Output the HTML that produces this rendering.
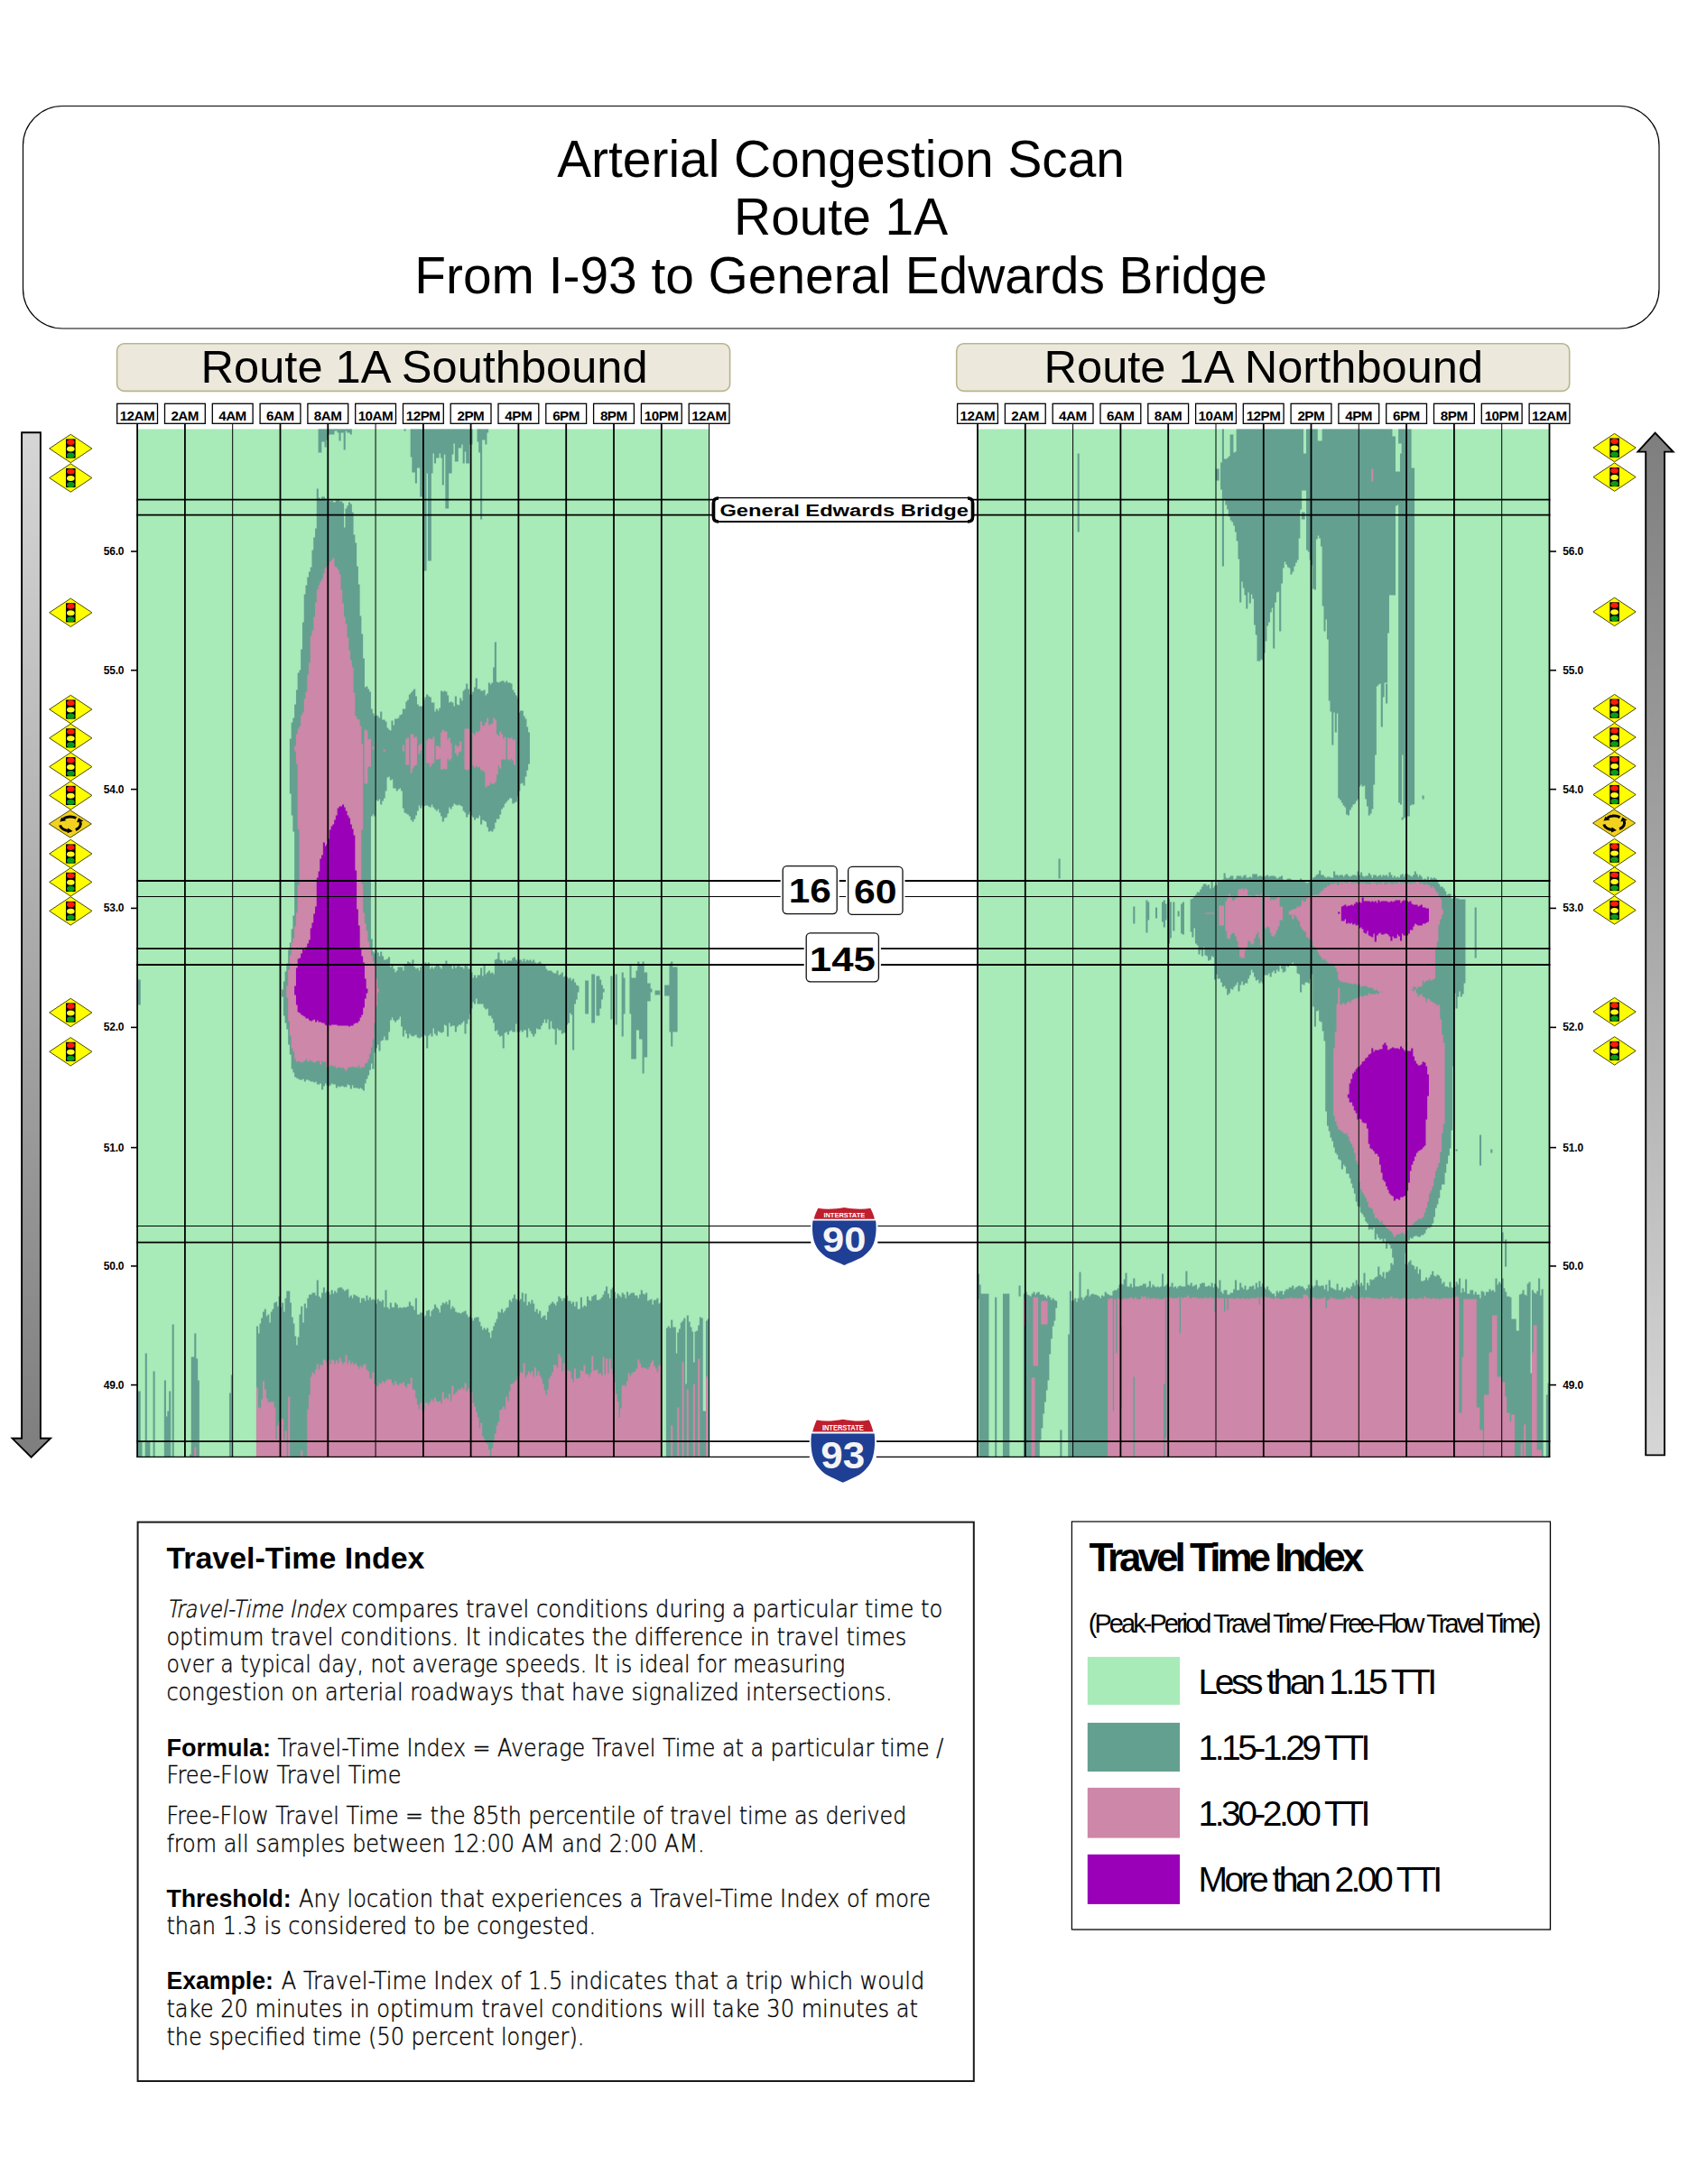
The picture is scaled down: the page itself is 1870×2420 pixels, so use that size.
<!DOCTYPE html>
<html lang="en"><head><meta charset="utf-8"><title>Arterial Congestion Scan - Route 1A</title>
<style>
html,body{margin:0;padding:0;background:#fff}
svg{display:block}
text{font-family:"Liberation Sans", sans-serif;fill:#000}
</style></head><body>
<svg width="1870" height="2420" viewBox="0 0 1870 2420">
<defs>
<linearGradient id="gL" x1="0" y1="0" x2="0" y2="1"><stop offset="0" stop-color="#d6d6d6"/><stop offset="1" stop-color="#7e7e7e"/></linearGradient>
<linearGradient id="gR" x1="0" y1="0" x2="0" y2="1"><stop offset="0" stop-color="#7e7e7e"/><stop offset="1" stop-color="#d6d6d6"/></linearGradient>
<g id="tl">
<polygon points="-23.6,0 0,-15.7 23.6,0 0,15.7" fill="#ffff00" stroke="#4a4a00" stroke-width="1"/>
<rect x="-5.3" y="-10.6" width="10.6" height="21.2" fill="#000"/>
<ellipse cx="0" cy="-7.1" rx="4.3" ry="3" fill="#ff1a0a"/>
<ellipse cx="0" cy="0.4" rx="4.3" ry="3" fill="#ffff1a"/>
<ellipse cx="0" cy="7.4" rx="4.3" ry="3" fill="#0a9a1a"/>
</g>
<g id="rb">
<polygon points="-23.5,0 0,-15.2 23.5,0 0,15.2" fill="#f2d21f" stroke="#4a4a00" stroke-width="1"/>
<g fill="none" stroke="#000" stroke-width="3">
<path d="M6.5,-6.4 A10.5,7.6 0 0 0 -7.5,-5.6"/>
<path d="M-11.3,1.5 A10.5,7.6 0 0 0 -1.5,7.5"/>
<path d="M6,6.6 A10.5,7.6 0 0 0 11,-2.5"/>
</g>
<polygon points="-11.6,-2.4 -9.6,-7.2 -4.4,-3.6" fill="#000"/>
<polygon points="2.8,8 -3.2,10.4 -2.4,4.6" fill="#000"/>
<polygon points="7.2,-1.6 9.2,-6.6 14.6,-3.2" fill="#000"/>
</g>
<g id="shield">
<path d="M-30.2,-32.4 C-20,-30.6 -10,-31.2 0,-33.2 C10,-31.2 20,-30.6 30.2,-32.4 C33,-27 35.2,-22 36.3,-17.4 C37.4,-10 37,0 34.2,8.6 C31.4,16 25,22.4 19.2,25.6 C12.5,29 5,31.6 0,34.2 C-5,31.6 -12.5,29 -19.2,25.6 C-25,22.4 -31.4,16 -34.2,8.6 C-37,0 -37.4,-10 -36.3,-17.4 C-35.2,-22 -33,-27 -30.2,-32.4 Z" fill="#fff"/>
<path d="M-29,-30.8 C-20,-29.2 -10,-29.8 0,-31.5 C10,-29.8 20,-29.2 29,-30.8 C31,-27 32.6,-23 33.6,-18.9 L-33.6,-18.9 C-32.6,-23 -31,-27 -29,-30.8 Z" fill="#bf1e2e"/>
<path d="M-34.8,-17.2 L34.8,-17.2 C35.8,-10 35.5,0 32.6,8.2 C30,15 24,21 18.4,24.2 C12,27.5 5,30 0,32.3 C-5,30 -12,27.5 -18.4,24.2 C-24,21 -30,15 -32.6,8.2 C-35.5,0 -35.8,-10 -34.8,-17.2 Z" fill="#1f3f94"/>
</g>
</defs>
<rect width="1870" height="2420" fill="#fff"/>

<rect x="25.5" y="117.5" width="1812.5" height="246.5" rx="44" ry="44" fill="#fff" stroke="#000" stroke-width="1.2"/>
<text x="931.6" y="195.6" text-anchor="middle" font-size="56.85">Arterial Congestion Scan</text>
<text x="931.6" y="260.2" text-anchor="middle" font-size="56.85">Route 1A</text>
<text x="931.6" y="324.9" text-anchor="middle" font-size="56.85">From I-93 to General Edwards Bridge</text>
<rect x="129.6" y="380.8" width="679" height="52.6" rx="8" ry="8" fill="#ece9dc" stroke="#b9b58e" stroke-width="1.6"/>
<text x="470.1" y="424.3" text-anchor="middle" font-size="50.6">Route 1A Southbound</text>
<rect x="1059.7" y="380.8" width="679" height="52.6" rx="8" ry="8" fill="#ece9dc" stroke="#b9b58e" stroke-width="1.6"/>
<text x="1399.8" y="424.3" text-anchor="middle" font-size="50.6">Route 1A Northbound</text>
<rect x="152.1" y="475.5" width="633.5" height="1138.7" fill="#a8eab8"/>
<path d="M153.0 1085.5V1113.5M153.0 1541.5V1614.2M154.7 1085.5V1113.5M154.7 1541.5V1614.2M156.5 1597.5V1614.2M161.8 1499.5V1614.2M163.5 1597.5V1614.2M165.3 1597.5V1614.2M170.6 1519.5V1614.2M182.9 1529.5V1614.2M184.7 1569.5V1614.2M186.4 1563.5V1614.2M188.2 1541.5V1614.2M191.7 1467.5V1614.2M211.1 1611.5V1614.2M212.8 1503.5V1614.2M214.6 1503.5V1614.2M216.3 1477.5V1614.2M218.1 1505.5V1614.2M219.8 1529.5V1614.2M255.0 1543.5V1614.2M256.8 1523.5V1614.2M285.0 1469.5V1614.2M286.7 1477.5V1614.2M288.5 1466.5V1614.2M290.2 1460.5V1614.2M292.0 1453.5V1614.2M293.8 1450.5V1614.2M295.5 1458.5V1614.2M297.3 1456.5V1614.2M299.0 1465.5V1614.2M300.8 1453.5V1614.2M302.6 1450.5V1614.2M304.3 1443.5V1614.2M306.1 1442.5V1614.2M307.8 1447.5V1614.2M309.6 1436.5V1614.2M311.4 1448.5V1614.2M313.1 1096.5V1104.5M313.1 1443.5V1614.2M314.9 1087.5V1125.5M314.9 1453.5V1614.2M316.6 1076.5V1133.5M316.6 1438.5V1614.2M318.4 1067.5V1140.5M318.4 1430.5V1614.2M320.2 1052.5V1157.5M320.2 1430.5V1614.2M321.9 818.5V879.5M321.9 1044.5V1168.5M321.9 1443.5V1614.2M323.7 800.5V903.5M323.7 1029.5V1184.5M323.7 1459.5V1614.2M325.4 795.5V921.5M325.4 1014.5V1188.5M325.4 1466.5V1614.2M327.2 780.5V1193.5M327.2 1480.5V1614.2M329.0 764.5V1194.5M329.0 1490.5V1614.2M330.7 745.5V1195.5M330.7 1481.5V1614.2M332.5 742.5V1196.5M332.5 1456.5V1614.2M334.2 719.5V1196.5M334.2 1447.5V1614.2M336.0 689.5V1195.5M336.0 1465.5V1614.2M337.8 658.5V1198.5M337.8 1444.5V1614.2M339.5 648.5V1196.5M339.5 1449.5V1614.2M341.3 639.5V1196.5M341.3 1438.5V1614.2M343.0 633.5V1197.5M343.0 1434.5V1614.2M344.8 628.5V1198.5M344.8 1434.5V1614.2M346.5 609.5V1198.5M346.5 1432.5V1614.2M348.3 595.5V1199.5M348.3 1432.5V1614.2M350.1 585.5V1198.5M350.1 1435.5V1614.2M351.8 541.5V1201.5M351.8 1418.5V1614.2M353.6 475.5V501.5M353.6 551.5V1201.5M353.6 1436.5V1614.2M355.3 475.5V501.5M355.3 553.5V1200.5M355.3 1438.5V1614.2M357.1 475.5V489.5M357.1 550.5V1207.5M357.1 1432.5V1614.2M358.9 475.5V489.5M358.9 550.5V1203.5M358.9 1426.5V1614.2M360.6 475.5V495.5M360.6 552.5V1200.5M360.6 1432.5V1614.2M362.4 475.5V487.5M362.4 555.5V1202.5M362.4 1430.5V1614.2M364.1 475.5V481.5M364.1 554.5V1203.5M364.1 1431.5V1614.2M365.9 475.5V481.5M365.9 555.5V1202.5M365.9 1434.5V1614.2M367.7 475.5V481.5M367.7 554.5V1200.5M367.7 1429.5V1614.2M369.4 475.5V481.5M369.4 556.5V1201.5M369.4 1433.5V1614.2M371.2 475.5V477.5M371.2 556.5V1201.5M371.2 1430.5V1614.2M372.9 475.5V477.5M372.9 554.5V1205.5M372.9 1432.5V1614.2M374.7 475.5V479.5M374.7 553.5V1203.5M374.7 1427.5V1614.2M376.5 475.5V488.5M376.5 555.5V1204.5M376.5 1426.5V1614.2M378.2 475.5V479.5M378.2 555.5V1203.5M378.2 1426.5V1614.2M380.0 475.5V479.5M380.0 557.5V1203.5M380.0 1428.5V1614.2M381.7 475.5V498.5M381.7 584.5V1204.5M381.7 1430.5V1614.2M383.5 475.5V477.5M383.5 563.5V1204.5M383.5 1429.5V1614.2M385.3 475.5V479.5M385.3 560.5V1201.5M385.3 1428.5V1614.2M387.0 475.5V479.5M387.0 556.5V1202.5M387.0 1437.5V1614.2M388.8 475.5V481.5M388.8 558.5V1206.5M388.8 1435.5V1614.2M390.5 567.5V1202.5M390.5 1438.5V1614.2M392.3 592.5V1205.5M392.3 1434.5V1614.2M394.1 601.5V1205.5M394.1 1435.5V1614.2M395.8 627.5V1205.5M395.8 1436.5V1614.2M397.6 647.5V1206.5M397.6 1437.5V1614.2M399.3 682.5V1205.5M399.3 1443.5V1614.2M401.1 702.5V1206.5M401.1 1438.5V1614.2M402.9 729.5V1208.5M402.9 1438.5V1614.2M404.6 761.5V1200.5M404.6 1441.5V1614.2M406.4 760.5V1195.5M406.4 1435.5V1614.2M408.1 763.5V1191.5M408.1 1440.5V1614.2M409.9 766.5V1185.5M409.9 1437.5V1614.2M411.7 785.5V904.5M411.7 1040.5V1178.5M411.7 1440.5V1614.2M413.4 790.5V902.5M413.4 1054.5V1184.5M413.4 1439.5V1614.2M415.2 793.5V904.5M415.2 1056.5V1166.5M415.2 1440.5V1614.2M416.9 792.5V886.5M416.9 1052.5V1161.5M416.9 1444.5V1614.2M418.7 793.5V887.5M418.7 1055.5V1157.5M418.7 1439.5V1614.2M420.5 795.5V885.5M420.5 1059.5V1164.5M420.5 1441.5V1614.2M422.2 788.5V891.5M422.2 1054.5V1153.5M422.2 1442.5V1614.2M424.0 797.5V887.5M424.0 1059.5V1152.5M424.0 1440.5V1614.2M425.7 797.5V884.5M425.7 1063.5V1148.5M425.7 1448.5V1614.2M427.5 799.5V876.5M427.5 1063.5V1152.5M427.5 1429.5V1614.2M429.3 806.5V861.5M429.3 1062.5V1152.5M429.3 1448.5V1614.2M431.0 808.5V860.5M431.0 1060.5V1143.5M431.0 1450.5V1614.2M432.8 809.5V864.5M432.8 1071.5V1130.5M432.8 1443.5V1614.2M434.5 798.5V863.5M434.5 1069.5V1127.5M434.5 1448.5V1614.2M436.3 803.5V873.5M436.3 1073.5V1130.5M436.3 1448.5V1614.2M438.1 796.5V873.5M438.1 1077.5V1132.5M438.1 1443.5V1614.2M439.8 796.5V876.5M439.8 1075.5V1130.5M439.8 1445.5V1614.2M441.6 795.5V874.5M441.6 1071.5V1129.5M441.6 1449.5V1614.2M443.3 792.5V873.5M443.3 1071.5V1126.5M443.3 1448.5V1614.2M445.1 791.5V876.5M445.1 1071.5V1137.5M445.1 1449.5V1614.2M446.9 785.5V895.5M446.9 1075.5V1148.5M446.9 1448.5V1614.2M448.6 475.5V477.5M448.6 785.5V900.5M448.6 1068.5V1141.5M448.6 1448.5V1614.2M450.4 777.5V901.5M450.4 1069.5V1145.5M450.4 1448.5V1614.2M452.1 775.5V902.5M452.1 1065.5V1150.5M452.1 1447.5V1614.2M453.9 769.5V904.5M453.9 1066.5V1145.5M453.9 1442.5V1614.2M455.7 475.5V506.5M455.7 767.5V908.5M455.7 1068.5V1147.5M455.7 1446.5V1614.2M457.4 475.5V523.5M457.4 765.5V910.5M457.4 1063.5V1148.5M457.4 1447.5V1614.2M459.2 475.5V523.5M459.2 763.5V907.5M459.2 1071.5V1147.5M459.2 1451.5V1614.2M460.9 475.5V535.5M460.9 771.5V903.5M460.9 1073.5V1146.5M460.9 1438.5V1614.2M462.7 475.5V518.5M462.7 780.5V898.5M462.7 1072.5V1149.5M462.7 1456.5V1614.2M464.5 475.5V518.5M464.5 782.5V892.5M464.5 1075.5V1150.5M464.5 1456.5V1614.2M466.2 475.5V550.5M466.2 782.5V895.5M466.2 1071.5V1149.5M466.2 1454.5V1614.2M468.0 475.5V550.5M468.0 782.5V892.5M468.0 1069.5V1148.5M468.0 1454.5V1614.2M469.7 475.5V632.5M469.7 775.5V893.5M469.7 1070.5V1146.5M469.7 1459.5V1614.2M471.5 475.5V632.5M471.5 772.5V892.5M471.5 1066.5V1147.5M471.5 1457.5V1614.2M473.2 475.5V524.5M473.2 769.5V892.5M473.2 1069.5V1161.5M473.2 1452.5V1614.2M475.0 475.5V621.5M475.0 771.5V893.5M475.0 1066.5V1147.5M475.0 1451.5V1614.2M476.8 475.5V621.5M476.8 772.5V894.5M476.8 1073.5V1145.5M476.8 1458.5V1614.2M478.5 475.5V524.5M478.5 778.5V891.5M478.5 1071.5V1148.5M478.5 1452.5V1614.2M480.3 475.5V502.5M480.3 778.5V894.5M480.3 1073.5V1139.5M480.3 1450.5V1614.2M482.0 475.5V513.5M482.0 788.5V896.5M482.0 1071.5V1145.5M482.0 1445.5V1614.2M483.8 475.5V507.5M483.8 785.5V898.5M483.8 1069.5V1147.5M483.8 1448.5V1614.2M485.6 475.5V507.5M485.6 787.5V896.5M485.6 1069.5V1142.5M485.6 1450.5V1614.2M487.3 475.5V502.5M487.3 784.5V900.5M487.3 1071.5V1143.5M487.3 1454.5V1614.2M489.1 475.5V507.5M489.1 765.5V904.5M489.1 1073.5V1144.5M489.1 1446.5V1614.2M490.8 475.5V537.5M490.8 766.5V910.5M490.8 1069.5V1143.5M490.8 1443.5V1614.2M492.6 475.5V503.5M492.6 765.5V906.5M492.6 1069.5V1135.5M492.6 1444.5V1614.2M494.4 475.5V563.5M494.4 766.5V905.5M494.4 1064.5V1136.5M494.4 1442.5V1614.2M496.1 475.5V563.5M496.1 770.5V901.5M496.1 1069.5V1148.5M496.1 1445.5V1614.2M497.9 475.5V524.5M497.9 778.5V894.5M497.9 1068.5V1133.5M497.9 1440.5V1614.2M499.6 475.5V524.5M499.6 777.5V896.5M499.6 1068.5V1137.5M499.6 1450.5V1614.2M501.4 475.5V503.5M501.4 778.5V893.5M501.4 1073.5V1136.5M501.4 1447.5V1614.2M503.2 475.5V491.5M503.2 782.5V890.5M503.2 1069.5V1136.5M503.2 1449.5V1614.2M504.9 475.5V511.5M504.9 771.5V891.5M504.9 1072.5V1143.5M504.9 1453.5V1614.2M506.7 475.5V511.5M506.7 780.5V892.5M506.7 1070.5V1137.5M506.7 1454.5V1614.2M508.4 475.5V496.5M508.4 781.5V891.5M508.4 1068.5V1135.5M508.4 1454.5V1614.2M510.2 475.5V496.5M510.2 773.5V892.5M510.2 1071.5V1135.5M510.2 1455.5V1614.2M512.0 475.5V492.5M512.0 776.5V893.5M512.0 1071.5V1133.5M512.0 1454.5V1614.2M513.7 475.5V513.5M513.7 765.5V898.5M513.7 1073.5V1131.5M513.7 1453.5V1614.2M515.5 475.5V500.5M515.5 763.5V900.5M515.5 1069.5V1145.5M515.5 1452.5V1614.2M517.2 475.5V513.5M517.2 757.5V905.5M517.2 1070.5V1134.5M517.2 1456.5V1614.2M519.0 475.5V513.5M519.0 763.5V902.5M519.0 1073.5V1129.5M519.0 1459.5V1614.2M520.8 475.5V492.5M520.8 769.5V899.5M520.8 1073.5V1123.5M520.8 1458.5V1614.2M522.5 475.5V492.5M522.5 769.5V903.5M522.5 1077.5V1117.5M522.5 1460.5V1614.2M524.3 766.5V905.5M524.3 1083.5V1110.5M524.3 1463.5V1614.2M526.0 761.5V908.5M526.0 1080.5V1112.5M526.0 1460.5V1614.2M527.8 751.5V906.5M527.8 1083.5V1106.5M527.8 1459.5V1614.2M529.6 475.5V489.5M529.6 763.5V906.5M529.6 1080.5V1112.5M529.6 1459.5V1614.2M531.3 475.5V501.5M531.3 763.5V903.5M531.3 1080.5V1112.5M531.3 1464.5V1614.2M533.1 475.5V575.5M533.1 765.5V913.5M533.1 1072.5V1112.5M533.1 1469.5V1614.2M534.8 475.5V487.5M534.8 765.5V908.5M534.8 1081.5V1112.5M534.8 1473.5V1614.2M536.6 475.5V487.5M536.6 764.5V909.5M536.6 1069.5V1116.5M536.6 1471.5V1614.2M538.4 475.5V492.5M538.4 770.5V910.5M538.4 1079.5V1118.5M538.4 1473.5V1614.2M540.1 475.5V479.5M540.1 768.5V916.5M540.1 1077.5V1117.5M540.1 1471.5V1614.2M541.9 756.5V921.5M541.9 1075.5V1125.5M541.9 1476.5V1614.2M543.6 758.5V920.5M543.6 1078.5V1125.5M543.6 1482.5V1614.2M545.4 756.5V921.5M545.4 1077.5V1128.5M545.4 1474.5V1614.2M547.2 739.5V918.5M547.2 1079.5V1133.5M547.2 1469.5V1614.2M548.9 711.5V911.5M548.9 1063.5V1142.5M548.9 1465.5V1614.2M550.7 755.5V907.5M550.7 1062.5V1141.5M550.7 1461.5V1614.2M552.4 756.5V907.5M552.4 1055.5V1146.5M552.4 1453.5V1614.2M554.2 755.5V902.5M554.2 1063.5V1148.5M554.2 1454.5V1614.2M556.0 754.5V896.5M556.0 1064.5V1147.5M556.0 1450.5V1614.2M557.7 754.5V894.5M557.7 1067.5V1161.5M557.7 1454.5V1614.2M559.5 756.5V890.5M559.5 1063.5V1144.5M559.5 1452.5V1614.2M561.2 754.5V888.5M561.2 1066.5V1143.5M561.2 1449.5V1614.2M563.0 756.5V886.5M563.0 1064.5V1146.5M563.0 1448.5V1614.2M564.8 756.5V884.5M564.8 1064.5V1142.5M564.8 1440.5V1614.2M566.5 757.5V884.5M566.5 1064.5V1141.5M566.5 1442.5V1614.2M568.3 764.5V890.5M568.3 1061.5V1143.5M568.3 1438.5V1614.2M570.0 767.5V889.5M570.0 1060.5V1143.5M570.0 1434.5V1614.2M571.8 770.5V888.5M571.8 1063.5V1134.5M571.8 1439.5V1614.2M573.6 773.5V882.5M573.6 1065.5V1143.5M573.6 1440.5V1614.2M575.3 789.5V876.5M575.3 1063.5V1143.5M575.3 1441.5V1614.2M577.1 787.5V868.5M577.1 1063.5V1141.5M577.1 1439.5V1614.2M578.8 787.5V867.5M578.8 1065.5V1143.5M578.8 1432.5V1614.2M580.6 793.5V870.5M580.6 1062.5V1141.5M580.6 1442.5V1614.2M582.4 796.5V860.5M582.4 1065.5V1141.5M582.4 1433.5V1614.2M584.1 805.5V853.5M584.1 1063.5V1149.5M584.1 1446.5V1614.2M585.9 811.5V846.5M585.9 1064.5V1139.5M585.9 1442.5V1614.2M587.6 1063.5V1142.5M587.6 1444.5V1614.2M589.4 1065.5V1145.5M589.4 1440.5V1614.2M591.2 1063.5V1148.5M591.2 1444.5V1614.2M592.9 1066.5V1145.5M592.9 1453.5V1614.2M594.7 1067.5V1139.5M594.7 1450.5V1614.2M596.4 1066.5V1140.5M596.4 1455.5V1614.2M598.2 1065.5V1140.5M598.2 1452.5V1614.2M599.9 1067.5V1136.5M599.9 1460.5V1614.2M601.7 1068.5V1133.5M601.7 1458.5V1614.2M603.5 1069.5V1129.5M603.5 1457.5V1614.2M605.2 1073.5V1133.5M605.2 1462.5V1614.2M607.0 1075.5V1129.5M607.0 1453.5V1614.2M608.7 1075.5V1140.5M608.7 1446.5V1614.2M610.5 1075.5V1131.5M610.5 1444.5V1614.2M612.3 1077.5V1139.5M612.3 1442.5V1614.2M614.0 1078.5V1140.5M614.0 1444.5V1614.2M615.8 1078.5V1157.5M615.8 1446.5V1614.2M617.5 1075.5V1139.5M617.5 1442.5V1614.2M619.3 1080.5V1141.5M619.3 1436.5V1614.2M621.1 1079.5V1141.5M621.1 1438.5V1614.2M622.8 1077.5V1145.5M622.8 1441.5V1614.2M624.6 1082.5V1144.5M624.6 1438.5V1614.2M626.3 1081.5V1144.5M626.3 1438.5V1614.2M628.1 1082.5V1135.5M628.1 1435.5V1614.2M629.9 1084.5V1133.5M629.9 1441.5V1614.2M631.6 1083.5V1122.5M631.6 1441.5V1614.2M633.4 1086.5V1124.5M633.4 1444.5V1614.2M635.1 1084.5V1163.5M635.1 1442.5V1614.2M636.9 1088.5V1112.5M636.9 1447.5V1614.2M638.7 1091.5V1107.5M638.7 1442.5V1614.2M640.4 1092.5V1099.5M640.4 1450.5V1614.2M642.2 1450.5V1614.2M643.9 1437.5V1614.2M645.7 1448.5V1614.2M647.5 1446.5V1614.2M649.2 1086.5V1123.5M649.2 1447.5V1614.2M651.0 1086.5V1123.5M651.0 1436.5V1614.2M652.7 1440.5V1614.2M654.5 1441.5V1614.2M656.3 1079.5V1133.5M656.3 1436.5V1614.2M658.0 1079.5V1133.5M658.0 1435.5V1614.2M659.8 1434.5V1614.2M661.5 1081.5V1125.5M661.5 1440.5V1614.2M663.3 1081.5V1125.5M663.3 1440.5V1614.2M665.1 1085.5V1117.5M665.1 1439.5V1614.2M666.8 1091.5V1107.5M666.8 1437.5V1614.2M668.6 1095.5V1099.5M668.6 1434.5V1614.2M670.3 1430.5V1614.2M672.1 1425.5V1614.2M673.9 1433.5V1614.2M675.6 1438.5V1614.2M677.4 1081.5V1129.5M677.4 1428.5V1614.2M679.1 1426.5V1614.2M680.9 1431.5V1614.2M682.7 1079.5V1135.5M682.7 1438.5V1614.2M684.4 1433.5V1614.2M686.2 1435.5V1614.2M687.9 1437.5V1614.2M689.7 1077.5V1148.5M689.7 1432.5V1614.2M691.5 1083.5V1123.5M691.5 1434.5V1614.2M693.2 1438.5V1614.2M695.0 1431.5V1614.2M696.7 1435.5V1614.2M698.5 1069.5V1123.5M698.5 1433.5V1614.2M700.3 1083.5V1173.5M700.3 1432.5V1614.2M702.0 1083.5V1173.5M702.0 1432.5V1614.2M703.8 1083.5V1173.5M703.8 1435.5V1614.2M705.5 1075.5V1141.5M705.5 1435.5V1614.2M707.3 1065.5V1141.5M707.3 1438.5V1614.2M709.1 1069.5V1151.5M709.1 1434.5V1614.2M710.8 1069.5V1151.5M710.8 1429.5V1614.2M712.6 1065.5V1189.5M712.6 1433.5V1614.2M714.3 1077.5V1171.5M714.3 1434.5V1614.2M716.1 1077.5V1171.5M716.1 1432.5V1614.2M717.9 1089.5V1109.5M717.9 1441.5V1614.2M719.6 1089.5V1109.5M719.6 1440.5V1614.2M721.4 1095.5V1099.5M721.4 1439.5V1614.2M723.1 1445.5V1614.2M724.9 1440.5V1614.2M726.6 1097.5V1102.5M726.6 1440.5V1614.2M728.4 1097.5V1102.5M728.4 1438.5V1614.2M730.2 1097.5V1102.5M730.2 1444.5V1614.2M731.9 1443.5V1614.2M737.2 1091.5V1103.5M739.0 1091.5V1103.5M739.0 1471.5V1614.2M740.7 1091.5V1103.5M740.7 1469.5V1614.2M742.5 1067.5V1143.5M742.5 1471.5V1614.2M744.2 1065.5V1159.5M744.2 1462.5V1614.2M746.0 1071.5V1143.5M746.0 1470.5V1614.2M747.8 1071.5V1143.5M747.8 1470.5V1614.2M749.5 1071.5V1143.5M749.5 1499.5V1614.2M751.3 1476.5V1614.2M753.0 1472.5V1614.2M754.8 1465.5V1614.2M756.6 1463.5V1614.2M758.3 1460.5V1614.2M760.1 1533.5V1614.2M761.8 1457.5V1614.2M763.6 1464.5V1614.2M765.4 1470.5V1614.2M767.1 1475.5V1614.2M768.9 1509.5V1614.2M770.6 1475.5V1614.2M772.4 1474.5V1614.2M774.2 1468.5V1614.2M775.9 1459.5V1614.2M777.7 1460.5V1614.2M779.4 1563.5V1614.2M781.2 1563.5V1614.2M783.0 1463.5V1614.2M784.7 1461.5V1614.2" stroke="#64a090" stroke-width="2.11" fill="none"/>
<path d="M216.3 1603.5V1614.2M285.0 1537.5V1614.2M286.7 1559.5V1614.2M288.5 1560.5V1614.2M290.2 1550.5V1614.2M292.0 1530.5V1614.2M293.8 1539.5V1614.2M295.5 1549.5V1614.2M297.3 1553.5V1614.2M299.0 1553.5V1614.2M300.8 1553.5V1614.2M302.6 1553.5V1614.2M304.3 1559.5V1614.2M306.1 1594.5V1614.2M307.8 1579.5V1614.2M309.6 1575.5V1614.2M311.4 1571.5V1614.2M313.1 1572.5V1614.2M314.9 1595.5V1614.2M316.6 1585.5V1614.2M318.4 1092.5V1105.5M320.2 1074.5V1131.5M320.2 1547.5V1614.2M321.9 1058.5V1147.5M323.7 1044.5V1161.5M325.4 1039.5V1165.5M327.2 826.5V832.5M327.2 1026.5V1173.5M329.0 813.5V846.5M329.0 1011.5V1176.5M330.7 807.5V918.5M330.7 980.5V1175.5M332.5 804.5V1176.5M334.2 792.5V1177.5M334.2 1607.5V1614.2M336.0 789.5V1176.5M337.8 774.5V1175.5M339.5 766.5V1173.5M341.3 747.5V1176.5M341.3 1561.5V1614.2M343.0 734.5V1174.5M343.0 1545.5V1614.2M344.8 704.5V1175.5M344.8 1525.5V1614.2M346.5 698.5V1176.5M346.5 1520.5V1614.2M348.3 683.5V1177.5M348.3 1522.5V1614.2M350.1 667.5V1176.5M350.1 1517.5V1614.2M351.8 653.5V1175.5M351.8 1511.5V1614.2M353.6 648.5V1175.5M353.6 1517.5V1614.2M355.3 644.5V1179.5M355.3 1512.5V1614.2M357.1 641.5V1175.5M357.1 1512.5V1614.2M358.9 635.5V1176.5M358.9 1506.5V1614.2M360.6 629.5V1176.5M360.6 1507.5V1614.2M362.4 627.5V1182.5M362.4 1510.5V1614.2M364.1 626.5V1182.5M364.1 1506.5V1614.2M365.9 622.5V1180.5M365.9 1511.5V1614.2M367.7 620.5V1180.5M367.7 1506.5V1614.2M369.4 618.5V1181.5M369.4 1507.5V1614.2M371.2 627.5V1181.5M371.2 1511.5V1614.2M372.9 628.5V1183.5M372.9 1507.5V1614.2M374.7 631.5V1182.5M374.7 1510.5V1614.2M376.5 636.5V1182.5M376.5 1504.5V1614.2M378.2 653.5V1183.5M378.2 1508.5V1614.2M380.0 668.5V1182.5M380.0 1511.5V1614.2M381.7 683.5V1184.5M381.7 1509.5V1614.2M383.5 691.5V1186.5M383.5 1501.5V1614.2M385.3 706.5V1183.5M385.3 1511.5V1614.2M387.0 720.5V1182.5M387.0 1507.5V1614.2M388.8 731.5V1182.5M388.8 1511.5V1614.2M390.5 739.5V1181.5M390.5 1509.5V1614.2M392.3 767.5V1182.5M392.3 1512.5V1614.2M394.1 793.5V1182.5M394.1 1510.5V1614.2M395.8 796.5V1182.5M395.8 1513.5V1614.2M397.6 797.5V1180.5M397.6 1516.5V1614.2M399.3 804.5V1183.5M399.3 1513.5V1614.2M401.1 824.5V919.5M401.1 979.5V1182.5M401.1 1515.5V1614.2M402.9 1011.5V1182.5M402.9 1512.5V1614.2M404.6 808.5V868.5M404.6 1023.5V1178.5M404.6 1511.5V1614.2M406.4 809.5V868.5M406.4 1031.5V1177.5M406.4 1517.5V1614.2M408.1 819.5V849.5M408.1 1043.5V1173.5M408.1 1519.5V1614.2M409.9 818.5V849.5M409.9 1051.5V1167.5M409.9 1527.5V1614.2M411.7 1058.5V1160.5M411.7 1527.5V1614.2M413.4 827.5V830.5M413.4 1065.5V1151.5M413.4 1520.5V1614.2M415.2 1070.5V1133.5M415.2 1533.5V1614.2M416.9 1084.5V1114.5M416.9 1535.5V1614.2M418.7 1095.5V1099.5M418.7 1536.5V1614.2M420.5 1532.5V1614.2M422.2 1533.5V1614.2M424.0 1530.5V1614.2M425.7 830.5V832.5M425.7 1532.5V1614.2M427.5 1530.5V1614.2M429.3 1528.5V1614.2M431.0 1528.5V1614.2M432.8 1528.5V1614.2M434.5 1532.5V1614.2M436.3 1535.5V1614.2M438.1 1530.5V1614.2M439.8 1533.5V1614.2M441.6 1535.5V1614.2M443.3 1532.5V1614.2M445.1 1533.5V1614.2M446.9 825.5V832.5M446.9 1531.5V1614.2M448.6 1535.5V1614.2M450.4 818.5V847.5M450.4 1537.5V1614.2M452.1 817.5V847.5M452.1 1533.5V1614.2M453.9 1533.5V1614.2M455.7 813.5V856.5M455.7 1526.5V1614.2M457.4 813.5V851.5M457.4 1539.5V1614.2M459.2 817.5V848.5M459.2 1540.5V1614.2M460.9 816.5V847.5M460.9 1549.5V1614.2M462.7 1556.5V1614.2M464.5 825.5V835.5M464.5 1561.5V1614.2M466.2 824.5V831.5M466.2 1554.5V1614.2M468.0 1563.5V1614.2M469.7 1561.5V1614.2M471.5 1554.5V1614.2M473.2 820.5V845.5M473.2 1554.5V1614.2M475.0 818.5V845.5M475.0 1556.5V1614.2M476.8 818.5V849.5M476.8 1553.5V1614.2M478.5 819.5V846.5M478.5 1550.5V1614.2M480.3 816.5V845.5M480.3 1553.5V1614.2M482.0 1548.5V1614.2M483.8 826.5V841.5M483.8 1552.5V1614.2M485.6 826.5V841.5M485.6 1553.5V1614.2M487.3 828.5V840.5M487.3 1552.5V1614.2M489.1 811.5V852.5M489.1 1555.5V1614.2M490.8 808.5V852.5M490.8 1542.5V1614.2M492.6 810.5V851.5M492.6 1550.5V1614.2M494.4 810.5V852.5M494.4 1548.5V1614.2M496.1 819.5V840.5M496.1 1550.5V1614.2M497.9 817.5V842.5M497.9 1544.5V1614.2M499.6 823.5V840.5M499.6 1552.5V1614.2M501.4 1535.5V1614.2M503.2 1545.5V1614.2M504.9 825.5V834.5M504.9 1543.5V1614.2M506.7 827.5V837.5M506.7 1541.5V1614.2M508.4 826.5V833.5M508.4 1539.5V1614.2M510.2 821.5V832.5M510.2 1539.5V1614.2M512.0 1537.5V1614.2M513.7 1539.5V1614.2M515.5 807.5V852.5M515.5 1532.5V1614.2M517.2 807.5V853.5M517.2 1541.5V1614.2M519.0 807.5V852.5M519.0 1538.5V1614.2M520.8 1543.5V1614.2M522.5 1542.5V1614.2M524.3 812.5V848.5M524.3 1554.5V1614.2M526.0 814.5V850.5M526.0 1558.5V1614.2M527.8 810.5V848.5M527.8 1564.5V1614.2M529.6 811.5V850.5M529.6 1570.5V1614.2M531.3 809.5V849.5M531.3 1582.5V1614.2M533.1 799.5V853.5M533.1 1576.5V1614.2M534.8 804.5V853.5M534.8 1591.5V1614.2M536.6 803.5V855.5M536.6 1594.5V1614.2M538.4 800.5V872.5M538.4 1598.5V1614.2M540.1 795.5V870.5M540.1 1600.5V1614.2M541.9 803.5V870.5M541.9 1606.5V1614.2M543.6 802.5V867.5M545.4 801.5V868.5M545.4 1604.5V1614.2M547.2 795.5V868.5M547.2 1595.5V1614.2M548.9 797.5V866.5M548.9 1588.5V1614.2M550.7 813.5V858.5M550.7 1579.5V1614.2M552.4 815.5V848.5M552.4 1575.5V1614.2M554.2 810.5V851.5M554.2 1562.5V1614.2M556.0 813.5V841.5M556.0 1561.5V1614.2M557.7 818.5V841.5M557.7 1558.5V1614.2M559.5 816.5V841.5M559.5 1561.5V1614.2M561.2 1547.5V1614.2M563.0 817.5V841.5M563.0 1552.5V1614.2M564.8 818.5V842.5M564.8 1541.5V1614.2M566.5 817.5V840.5M566.5 1533.5V1614.2M568.3 819.5V842.5M568.3 1533.5V1614.2M570.0 819.5V847.5M570.0 1531.5V1614.2M571.8 1529.5V1614.2M573.6 1525.5V1614.2M575.3 1524.5V1614.2M577.1 1520.5V1614.2M578.8 1521.5V1614.2M580.6 1510.5V1614.2M582.4 1526.5V1614.2M584.1 1523.5V1614.2M585.9 1519.5V1614.2M587.6 1522.5V1614.2M589.4 1519.5V1614.2M591.2 1525.5V1614.2M592.9 1515.5V1614.2M594.7 1524.5V1614.2M596.4 1519.5V1614.2M598.2 1524.5V1614.2M599.9 1527.5V1614.2M601.7 1533.5V1614.2M603.5 1540.5V1614.2M605.2 1545.5V1614.2M607.0 1539.5V1614.2M608.7 1527.5V1614.2M610.5 1524.5V1614.2M612.3 1520.5V1614.2M614.0 1512.5V1614.2M615.8 1512.5V1614.2M617.5 1515.5V1614.2M619.3 1500.5V1614.2M621.1 1503.5V1614.2M622.8 1519.5V1614.2M624.6 1510.5V1614.2M626.3 1518.5V1614.2M628.1 1518.5V1614.2M629.9 1518.5V1614.2M631.6 1519.5V1614.2M633.4 1527.5V1614.2M635.1 1531.5V1614.2M636.9 1516.5V1614.2M638.7 1527.5V1614.2M640.4 1527.5V1614.2M642.2 1526.5V1614.2M643.9 1518.5V1614.2M645.7 1519.5V1614.2M647.5 1512.5V1614.2M649.2 1522.5V1614.2M651.0 1522.5V1614.2M652.7 1525.5V1614.2M654.5 1521.5V1614.2M656.3 1502.5V1614.2M658.0 1518.5V1614.2M659.8 1518.5V1614.2M661.5 1517.5V1614.2M663.3 1522.5V1614.2M665.1 1521.5V1614.2M666.8 1524.5V1614.2M668.6 1503.5V1614.2M670.3 1523.5V1614.2M672.1 1505.5V1614.2M673.9 1521.5V1614.2M675.6 1505.5V1614.2M677.4 1516.5V1614.2M679.1 1522.5V1614.2M680.9 1531.5V1614.2M682.7 1544.5V1614.2M684.4 1553.5V1614.2M686.2 1570.5V1614.2M687.9 1560.5V1614.2M689.7 1535.5V1614.2M691.5 1534.5V1614.2M693.2 1536.5V1614.2M695.0 1530.5V1614.2M696.7 1521.5V1614.2M698.5 1524.5V1614.2M700.3 1521.5V1614.2M702.0 1520.5V1614.2M703.8 1519.5V1614.2M705.5 1516.5V1614.2M707.3 1506.5V1614.2M709.1 1510.5V1614.2M710.8 1515.5V1614.2M712.6 1515.5V1614.2M714.3 1515.5V1614.2M716.1 1516.5V1614.2M717.9 1517.5V1614.2M719.6 1514.5V1614.2M721.4 1510.5V1614.2M723.1 1507.5V1614.2M724.9 1513.5V1614.2M726.6 1516.5V1614.2M728.4 1520.5V1614.2M730.2 1513.5V1614.2M731.9 1511.5V1614.2M744.2 1579.5V1614.2M751.3 1559.5V1614.2M756.6 1509.5V1614.2M761.8 1539.5V1614.2M768.9 1533.5V1614.2M774.2 1505.5V1614.2M783.0 1525.5V1614.2" stroke="#cd87a8" stroke-width="2.11" fill="none"/>
<path d="M327.2 1092.5V1102.5M329.0 1072.5V1113.5M330.7 1062.5V1121.5M332.5 1061.5V1122.5M334.2 1056.5V1124.5M336.0 1051.5V1125.5M337.8 1052.5V1126.5M339.5 1049.5V1128.5M341.3 1045.5V1128.5M343.0 1041.5V1130.5M344.8 1028.5V1131.5M346.5 1022.5V1130.5M348.3 1012.5V1129.5M350.1 1004.5V1132.5M351.8 972.5V1130.5M353.6 965.5V1132.5M355.3 951.5V1132.5M357.1 947.5V1133.5M358.9 933.5V1133.5M360.6 937.5V1135.5M362.4 935.5V1136.5M364.1 929.5V1135.5M365.9 919.5V1136.5M367.7 915.5V1135.5M369.4 913.5V1135.5M371.2 908.5V1135.5M372.9 903.5V1135.5M374.7 895.5V1136.5M376.5 893.5V1136.5M378.2 893.5V1136.5M380.0 891.5V1136.5M381.7 894.5V1136.5M383.5 898.5V1136.5M385.3 903.5V1136.5M387.0 906.5V1137.5M388.8 913.5V1136.5M390.5 918.5V1136.5M392.3 925.5V1134.5M394.1 964.5V1133.5M395.8 1007.5V1133.5M397.6 1025.5V1131.5M399.3 1050.5V1127.5M401.1 1059.5V1124.5M402.9 1066.5V1116.5M404.6 1084.5V1106.5M406.4 1095.5V1100.5" stroke="#9900b8" stroke-width="2.11" fill="none"/>
<rect x="1083.0" y="475.5" width="633.5" height="1138.7" fill="#a8eab8"/>
<path d="M1083.9 1411.5V1439.5M1085.6 1423.5V1614.2M1087.4 1433.5V1614.2M1089.2 1433.5V1614.2M1090.9 1433.5V1614.2M1092.7 1433.5V1614.2M1094.4 1433.5V1614.2M1103.2 1437.5V1614.2M1112.0 1433.5V1614.2M1113.8 1433.5V1614.2M1115.6 1433.5V1614.2M1117.3 1433.5V1614.2M1129.6 1424.5V1436.5M1134.9 1433.5V1614.2M1136.7 1431.5V1614.2M1138.4 1434.5V1614.2M1140.2 1435.5V1614.2M1142.0 1436.5V1614.2M1143.7 1433.5V1614.2M1145.5 1431.5V1614.2M1147.2 1434.5V1614.2M1149.0 1432.5V1614.2M1150.7 1431.5V1614.2M1152.5 1434.5V1595.5M1154.3 1434.5V1582.5M1156.0 1434.5V1566.5M1157.8 1436.5V1553.5M1159.5 1438.5V1540.5M1161.3 1435.5V1529.5M1163.1 1437.5V1500.5M1164.8 1440.5V1483.5M1166.6 1438.5V1469.5M1168.3 1440.5V1463.5M1170.1 1441.5V1449.5M1173.6 951.5V973.5M1175.4 1584.5V1614.2M1184.2 1478.5V1614.2M1185.9 1430.5V1614.2M1187.7 1441.5V1614.2M1189.5 1440.5V1614.2M1191.2 1438.5V1614.2M1193.0 1442.5V1614.2M1194.7 502.5V589.5M1194.7 1438.5V1614.2M1196.5 1409.5V1614.2M1198.3 1437.5V1614.2M1200.0 1440.5V1614.2M1201.8 1437.5V1614.2M1203.5 1435.5V1614.2M1205.3 1428.5V1614.2M1207.1 1436.5V1614.2M1208.8 1434.5V1614.2M1210.6 1433.5V1614.2M1212.3 1434.5V1614.2M1214.1 1434.5V1614.2M1215.9 1435.5V1614.2M1217.6 1436.5V1614.2M1219.4 1438.5V1614.2M1221.1 1435.5V1614.2M1222.9 1436.5V1614.2M1224.7 1431.5V1614.2M1226.4 1433.5V1614.2M1228.2 1434.5V1614.2M1229.9 1435.5V1614.2M1231.7 1435.5V1614.2M1233.5 1430.5V1614.2M1235.2 1429.5V1614.2M1237.0 1429.5V1614.2M1238.7 1427.5V1614.2M1240.5 1423.5V1614.2M1242.3 1422.5V1614.2M1244.0 1423.5V1614.2M1245.8 1417.5V1614.2M1247.5 1410.5V1614.2M1249.3 1425.5V1614.2M1251.1 1425.5V1614.2M1252.8 1422.5V1614.2M1254.6 1426.5V1614.2M1256.3 1004.5V1023.5M1256.3 1416.5V1614.2M1258.1 1425.5V1614.2M1259.9 1425.5V1614.2M1261.6 1425.5V1614.2M1263.4 1424.5V1614.2M1265.1 1424.5V1614.2M1266.9 1422.5V1614.2M1268.7 1422.5V1614.2M1270.4 997.5V1033.5M1270.4 1426.5V1614.2M1272.2 999.5V1019.5M1272.2 1425.5V1614.2M1273.9 1419.5V1614.2M1275.7 1426.5V1614.2M1277.4 1423.5V1614.2M1279.2 1425.5V1614.2M1281.0 1005.5V1017.5M1281.0 1426.5V1614.2M1282.7 1425.5V1614.2M1284.5 1426.5V1614.2M1286.2 1425.5V1614.2M1288.0 999.5V1021.5M1288.0 1411.5V1614.2M1289.8 997.5V1027.5M1289.8 1425.5V1614.2M1291.5 1001.5V1019.5M1291.5 1424.5V1614.2M1293.3 1422.5V1614.2M1295.0 995.5V1045.5M1295.0 1426.5V1614.2M1296.8 999.5V1039.5M1296.8 1425.5V1614.2M1298.6 1421.5V1614.2M1300.3 999.5V1031.5M1300.3 1426.5V1614.2M1302.1 1425.5V1614.2M1303.8 1427.5V1614.2M1305.6 1009.5V1015.5M1305.6 1425.5V1614.2M1307.4 1424.5V1614.2M1309.1 1001.5V1034.5M1309.1 1425.5V1614.2M1310.9 999.5V1035.5M1310.9 1425.5V1614.2M1312.6 1425.5V1614.2M1314.4 1408.5V1614.2M1316.2 1423.5V1614.2M1317.9 1424.5V1614.2M1319.7 996.5V1032.5M1319.7 1421.5V1614.2M1321.4 995.5V1038.5M1321.4 1425.5V1614.2M1323.2 993.5V1028.5M1323.2 1424.5V1614.2M1325.0 991.5V1045.5M1325.0 1423.5V1614.2M1326.7 988.5V1047.5M1326.7 1428.5V1614.2M1328.5 988.5V1057.5M1328.5 1426.5V1614.2M1330.2 985.5V1052.5M1330.2 1422.5V1614.2M1332.0 982.5V1059.5M1332.0 1421.5V1614.2M1333.8 979.5V1049.5M1333.8 1421.5V1614.2M1335.5 979.5V1058.5M1335.5 1425.5V1614.2M1337.3 981.5V1059.5M1337.3 1425.5V1614.2M1339.0 980.5V1064.5M1339.0 1424.5V1614.2M1340.8 984.5V1063.5M1340.8 1425.5V1614.2M1342.6 975.5V1059.5M1342.6 1421.5V1614.2M1344.3 983.5V1060.5M1344.3 1426.5V1614.2M1346.1 981.5V1085.5M1346.1 1422.5V1614.2M1347.8 519.5V532.5M1347.8 980.5V1079.5M1347.8 1425.5V1614.2M1349.6 519.5V532.5M1349.6 975.5V1084.5M1349.6 1427.5V1614.2M1351.4 976.5V1084.5M1351.4 1418.5V1614.2M1353.1 512.5V542.5M1353.1 975.5V1088.5M1353.1 1431.5V1614.2M1354.9 475.5V627.5M1354.9 974.5V1093.5M1354.9 1433.5V1614.2M1356.6 508.5V553.5M1356.6 967.5V1092.5M1356.6 1429.5V1614.2M1358.4 508.5V559.5M1358.4 972.5V1095.5M1358.4 1429.5V1614.2M1360.2 507.5V564.5M1360.2 973.5V1102.5M1360.2 1434.5V1614.2M1361.9 505.5V572.5M1361.9 972.5V1100.5M1361.9 1434.5V1614.2M1363.7 481.5V576.5M1363.7 970.5V1095.5M1363.7 1432.5V1614.2M1365.4 481.5V578.5M1365.4 970.5V1096.5M1365.4 1432.5V1614.2M1367.2 501.5V582.5M1367.2 974.5V1093.5M1367.2 1428.5V1614.2M1369.0 500.5V589.5M1369.0 973.5V1091.5M1369.0 1418.5V1614.2M1370.7 475.5V599.5M1370.7 970.5V1088.5M1370.7 1429.5V1614.2M1372.5 475.5V619.5M1372.5 970.5V1098.5M1372.5 1429.5V1614.2M1374.2 475.5V667.5M1374.2 970.5V1091.5M1374.2 1421.5V1614.2M1376.0 475.5V644.5M1376.0 972.5V1087.5M1376.0 1426.5V1614.2M1377.8 475.5V651.5M1377.8 970.5V1091.5M1377.8 1428.5V1614.2M1379.5 475.5V659.5M1379.5 969.5V1089.5M1379.5 1424.5V1614.2M1381.3 475.5V674.5M1381.3 972.5V1089.5M1381.3 1429.5V1614.2M1383.0 475.5V656.5M1383.0 972.5V1084.5M1383.0 1428.5V1614.2M1384.8 475.5V668.5M1384.8 971.5V1080.5M1384.8 1425.5V1614.2M1386.6 475.5V658.5M1386.6 972.5V1074.5M1386.6 1425.5V1614.2M1388.3 475.5V663.5M1388.3 968.5V1077.5M1388.3 1424.5V1614.2M1390.1 475.5V692.5M1390.1 968.5V1082.5M1390.1 1428.5V1614.2M1391.8 475.5V703.5M1391.8 968.5V1086.5M1391.8 1421.5V1614.2M1393.6 475.5V732.5M1393.6 971.5V1085.5M1393.6 1426.5V1614.2M1395.4 475.5V732.5M1395.4 970.5V1089.5M1395.4 1419.5V1614.2M1397.1 475.5V730.5M1397.1 970.5V1087.5M1397.1 1425.5V1614.2M1398.9 475.5V731.5M1398.9 971.5V1089.5M1398.9 1422.5V1614.2M1400.6 475.5V723.5M1400.6 971.5V1080.5M1400.6 1426.5V1614.2M1402.4 475.5V710.5M1402.4 970.5V1080.5M1402.4 1428.5V1614.2M1404.1 475.5V693.5M1404.1 969.5V1080.5M1404.1 1425.5V1614.2M1405.9 475.5V689.5M1405.9 971.5V1078.5M1405.9 1429.5V1614.2M1407.7 475.5V678.5M1407.7 970.5V1082.5M1407.7 1431.5V1614.2M1409.4 475.5V673.5M1409.4 970.5V1077.5M1409.4 1433.5V1614.2M1411.2 475.5V718.5M1411.2 970.5V1075.5M1411.2 1433.5V1614.2M1412.9 475.5V667.5M1412.9 971.5V1078.5M1412.9 1436.5V1614.2M1414.7 475.5V656.5M1414.7 973.5V1074.5M1414.7 1430.5V1614.2M1416.5 475.5V655.5M1416.5 972.5V1076.5M1416.5 1432.5V1614.2M1418.2 475.5V699.5M1418.2 971.5V1068.5M1418.2 1430.5V1614.2M1420.0 475.5V646.5M1420.0 970.5V1073.5M1420.0 1430.5V1614.2M1421.7 475.5V629.5M1421.7 974.5V1077.5M1421.7 1434.5V1614.2M1423.5 475.5V622.5M1423.5 976.5V1076.5M1423.5 1430.5V1614.2M1425.3 475.5V625.5M1425.3 974.5V1070.5M1425.3 1428.5V1614.2M1427.0 475.5V628.5M1427.0 973.5V1071.5M1427.0 1428.5V1614.2M1428.8 475.5V629.5M1428.8 973.5V1068.5M1428.8 1426.5V1614.2M1430.5 475.5V636.5M1430.5 974.5V1068.5M1430.5 1426.5V1614.2M1432.3 475.5V633.5M1432.3 976.5V1066.5M1432.3 1424.5V1614.2M1434.1 475.5V627.5M1434.1 975.5V1069.5M1434.1 1428.5V1614.2M1435.8 475.5V623.5M1435.8 975.5V1070.5M1435.8 1426.5V1614.2M1437.6 475.5V620.5M1437.6 975.5V1078.5M1437.6 1425.5V1614.2M1439.3 475.5V596.5M1439.3 976.5V1079.5M1439.3 1424.5V1614.2M1441.1 475.5V564.5M1441.1 973.5V1099.5M1441.1 1425.5V1614.2M1442.9 475.5V543.5M1442.9 567.5V575.5M1442.9 976.5V1090.5M1442.9 1425.5V1614.2M1444.6 502.5V543.5M1444.6 567.5V575.5M1444.6 975.5V1091.5M1444.6 1427.5V1614.2M1446.4 502.5V543.5M1446.4 977.5V1088.5M1446.4 1429.5V1614.2M1448.1 475.5V609.5M1448.1 978.5V1088.5M1448.1 1427.5V1614.2M1449.9 475.5V611.5M1449.9 977.5V1089.5M1449.9 1423.5V1614.2M1451.7 475.5V620.5M1451.7 976.5V1084.5M1451.7 1427.5V1614.2M1453.4 475.5V626.5M1453.4 977.5V1079.5M1453.4 1424.5V1614.2M1455.2 475.5V652.5M1455.2 972.5V1115.5M1455.2 1426.5V1614.2M1456.9 475.5V653.5M1456.9 971.5V1137.5M1456.9 1424.5V1614.2M1458.7 475.5V597.5M1458.7 969.5V1120.5M1458.7 1418.5V1614.2M1460.5 488.5V593.5M1460.5 968.5V1119.5M1460.5 1424.5V1614.2M1462.2 488.5V596.5M1462.2 964.5V1131.5M1462.2 1425.5V1614.2M1464.0 488.5V605.5M1464.0 969.5V1132.5M1464.0 1424.5V1614.2M1465.7 475.5V671.5M1465.7 969.5V1142.5M1465.7 1424.5V1614.2M1467.5 475.5V699.5M1467.5 971.5V1153.5M1467.5 1428.5V1614.2M1469.3 475.5V686.5M1469.3 972.5V1231.5M1469.3 1423.5V1614.2M1471.0 475.5V708.5M1471.0 971.5V1247.5M1471.0 1430.5V1614.2M1472.8 475.5V776.5M1472.8 971.5V1253.5M1472.8 1418.5V1614.2M1474.5 475.5V788.5M1474.5 972.5V1260.5M1474.5 1426.5V1614.2M1476.3 475.5V825.5M1476.3 972.5V1264.5M1476.3 1427.5V1614.2M1478.1 475.5V789.5M1478.1 965.5V1271.5M1478.1 1428.5V1614.2M1479.8 475.5V811.5M1479.8 969.5V1277.5M1479.8 1429.5V1614.2M1481.6 475.5V790.5M1481.6 969.5V1279.5M1481.6 1422.5V1614.2M1483.3 475.5V884.5M1483.3 970.5V1284.5M1483.3 1429.5V1614.2M1485.1 475.5V886.5M1485.1 969.5V1285.5M1485.1 1429.5V1614.2M1486.9 475.5V889.5M1486.9 969.5V1295.5M1486.9 1426.5V1614.2M1488.6 475.5V892.5M1488.6 971.5V1290.5M1488.6 1431.5V1614.2M1490.4 475.5V894.5M1490.4 969.5V1292.5M1490.4 1429.5V1614.2M1492.1 475.5V902.5M1492.1 968.5V1300.5M1492.1 1426.5V1614.2M1493.9 475.5V903.5M1493.9 970.5V1300.5M1493.9 1427.5V1614.2M1495.7 475.5V897.5M1495.7 971.5V1305.5M1495.7 1428.5V1614.2M1497.4 475.5V894.5M1497.4 970.5V1311.5M1497.4 1425.5V1614.2M1499.2 475.5V891.5M1499.2 969.5V1316.5M1499.2 1421.5V1614.2M1500.9 475.5V890.5M1500.9 969.5V1322.5M1500.9 1424.5V1614.2M1502.7 475.5V887.5M1502.7 970.5V1331.5M1502.7 1418.5V1614.2M1504.5 475.5V885.5M1504.5 965.5V1336.5M1504.5 1423.5V1614.2M1506.2 475.5V871.5M1506.2 969.5V1337.5M1506.2 1425.5V1614.2M1508.0 475.5V869.5M1508.0 966.5V1343.5M1508.0 1421.5V1614.2M1509.7 475.5V871.5M1509.7 970.5V1345.5M1509.7 1424.5V1614.2M1511.5 475.5V870.5M1511.5 971.5V1348.5M1511.5 1410.5V1614.2M1513.3 475.5V885.5M1513.3 970.5V1353.5M1513.3 1429.5V1614.2M1515.0 475.5V893.5M1515.0 970.5V1355.5M1515.0 1421.5V1614.2M1516.8 475.5V903.5M1516.8 967.5V1362.5M1516.8 1424.5V1614.2M1518.5 475.5V901.5M1518.5 969.5V1361.5M1518.5 1417.5V1614.2M1520.3 475.5V896.5M1520.3 972.5V1362.5M1520.3 1418.5V1614.2M1522.1 475.5V869.5M1522.1 969.5V1360.5M1522.1 1417.5V1614.2M1523.8 475.5V836.5M1523.8 969.5V1373.5M1523.8 1415.5V1614.2M1525.6 475.5V760.5M1525.6 971.5V1367.5M1525.6 1414.5V1614.2M1527.3 475.5V758.5M1527.3 970.5V1371.5M1527.3 1403.5V1614.2M1529.1 475.5V757.5M1529.1 969.5V1373.5M1529.1 1412.5V1614.2M1530.8 475.5V805.5M1530.8 971.5V1372.5M1530.8 1414.5V1614.2M1532.6 475.5V772.5M1532.6 969.5V1376.5M1532.6 1409.5V1614.2M1534.4 475.5V756.5M1534.4 970.5V1372.5M1534.4 1416.5V1614.2M1536.1 475.5V756.5M1536.1 757.5V779.5M1536.1 969.5V1383.5M1536.1 1409.5V1614.2M1537.9 475.5V701.5M1537.9 971.5V1377.5M1537.9 1409.5V1614.2M1539.6 475.5V659.5M1539.6 966.5V1379.5M1539.6 1407.5V1614.2M1541.4 475.5V659.5M1541.4 969.5V1383.5M1541.4 1399.5V1614.2M1543.2 483.5V659.5M1543.2 972.5V1393.5M1543.2 1401.5V1614.2M1544.9 483.5V659.5M1544.9 970.5V1614.2M1546.7 522.5V560.5M1546.7 972.5V1614.2M1548.4 522.5V559.5M1548.4 971.5V1614.2M1550.2 475.5V491.5M1550.2 522.5V889.5M1550.2 972.5V1614.2M1552.0 475.5V491.5M1552.0 502.5V891.5M1552.0 969.5V1614.2M1553.7 475.5V836.5M1553.7 905.5V908.5M1553.7 968.5V1614.2M1555.5 475.5V906.5M1555.5 971.5V1614.2M1557.2 475.5V905.5M1557.2 968.5V1388.5M1557.2 1400.5V1614.2M1559.0 475.5V904.5M1559.0 968.5V1376.5M1559.0 1401.5V1614.2M1560.8 475.5V904.5M1560.8 969.5V1374.5M1560.8 1398.5V1614.2M1562.5 475.5V892.5M1562.5 970.5V1371.5M1562.5 1396.5V1614.2M1564.3 518.5V891.5M1564.3 971.5V1372.5M1564.3 1401.5V1614.2M1566.0 518.5V891.5M1566.0 969.5V1370.5M1566.0 1402.5V1614.2M1567.8 965.5V1369.5M1567.8 1406.5V1614.2M1569.6 968.5V1369.5M1569.6 1403.5V1614.2M1571.3 971.5V1370.5M1571.3 1411.5V1614.2M1573.1 969.5V1370.5M1573.1 1406.5V1614.2M1574.8 971.5V1368.5M1574.8 1419.5V1614.2M1576.6 881.5V885.5M1576.6 974.5V1368.5M1576.6 1419.5V1614.2M1578.4 973.5V1366.5M1578.4 1418.5V1614.2M1580.1 974.5V1362.5M1580.1 1415.5V1614.2M1581.9 971.5V1360.5M1581.9 1418.5V1614.2M1583.6 975.5V1360.5M1583.6 1415.5V1614.2M1585.4 972.5V1359.5M1585.4 1412.5V1614.2M1587.2 973.5V1355.5M1587.2 1408.5V1614.2M1588.9 972.5V1348.5M1588.9 1413.5V1614.2M1590.7 973.5V1338.5M1590.7 1414.5V1614.2M1592.4 976.5V1334.5M1592.4 1412.5V1614.2M1594.2 979.5V1327.5M1594.2 1413.5V1614.2M1596.0 982.5V1318.5M1596.0 1416.5V1614.2M1597.7 982.5V1312.5M1597.7 1422.5V1614.2M1599.5 984.5V1312.5M1599.5 1420.5V1614.2M1601.2 987.5V1299.5M1601.2 1425.5V1614.2M1603.0 991.5V1289.5M1603.0 1425.5V1614.2M1604.8 990.5V1280.5M1604.8 1426.5V1614.2M1606.5 990.5V1272.5M1606.5 1420.5V1614.2M1608.3 995.5V1252.5M1608.3 1426.5V1614.2M1610.0 995.5V1181.5M1610.0 1427.5V1614.2M1611.8 992.5V1100.5M1611.8 1425.5V1614.2M1613.6 995.5V1117.5M1613.6 1273.5V1275.5M1613.6 1420.5V1614.2M1615.3 995.5V1104.5M1615.3 1423.5V1614.2M1617.1 996.5V1098.5M1617.1 1416.5V1614.2M1618.8 996.5V1104.5M1618.8 1432.5V1614.2M1620.6 996.5V1101.5M1620.6 1427.5V1614.2M1622.4 996.5V1089.5M1622.4 1431.5V1614.2M1624.1 1417.5V1614.2M1625.9 1433.5V1614.2M1627.6 1433.5V1614.2M1629.4 1429.5V1614.2M1631.2 1429.5V1614.2M1632.9 1434.5V1614.2M1634.7 1005.5V1061.5M1634.7 1431.5V1614.2M1636.4 1434.5V1614.2M1638.2 1434.5V1614.2M1640.0 1257.5V1291.5M1640.0 1438.5V1614.2M1641.7 1430.5V1614.2M1643.5 1431.5V1614.2M1645.2 1435.5V1614.2M1647.0 1431.5V1614.2M1648.8 1431.5V1614.2M1650.5 1428.5V1614.2M1652.3 1273.5V1277.5M1652.3 1430.5V1614.2M1654.0 1429.5V1614.2M1655.8 1431.5V1614.2M1657.5 1416.5V1614.2M1659.3 1423.5V1614.2M1661.1 1420.5V1614.2M1662.8 1422.5V1614.2M1664.6 1365.5V1375.5M1664.6 1416.5V1614.2M1666.3 1427.5V1614.2M1668.1 1373.5V1403.5M1668.1 1431.5V1614.2M1669.9 1436.5V1614.2M1671.6 1436.5V1614.2M1673.4 1437.5V1614.2M1675.1 1461.5V1614.2M1676.9 1461.5V1614.2M1678.7 1461.5V1614.2M1680.4 1474.5V1614.2M1682.2 1474.5V1614.2M1683.9 1434.5V1614.2M1685.7 1433.5V1614.2M1687.5 1429.5V1614.2M1689.2 1434.5V1614.2M1691.0 1435.5V1614.2M1692.7 1422.5V1614.2M1694.5 1420.5V1614.2M1696.3 1521.5V1614.2M1698.0 1429.5V1614.2M1699.8 1432.5V1614.2M1701.5 1433.5V1614.2M1703.3 1430.5V1614.2M1705.1 1416.5V1614.2M1706.8 1435.5V1614.2M1708.6 1428.5V1614.2M1713.9 1545.5V1614.2M1715.6 1532.5V1614.2" stroke="#64a090" stroke-width="2.11" fill="none"/>
<path d="M1134.9 1439.5V1469.5M1143.7 1526.5V1614.2M1145.5 1437.5V1513.5M1145.5 1526.5V1614.2M1147.2 1437.5V1513.5M1149.0 1437.5V1513.5M1154.3 1441.5V1467.5M1156.0 1441.5V1467.5M1157.8 1441.5V1467.5M1159.5 1441.5V1467.5M1228.2 1439.5V1614.2M1229.9 1438.5V1614.2M1231.7 1438.5V1614.2M1233.5 1563.5V1614.2M1235.2 1439.5V1614.2M1237.0 1499.5V1614.2M1238.7 1438.5V1614.2M1240.5 1439.5V1614.2M1242.3 1440.5V1469.5M1242.3 1559.5V1614.2M1244.0 1439.5V1614.2M1245.8 1438.5V1614.2M1247.5 1439.5V1614.2M1249.3 1438.5V1614.2M1251.1 1438.5V1614.2M1252.8 1437.5V1614.2M1254.6 1438.5V1614.2M1256.3 1439.5V1525.5M1258.1 1437.5V1614.2M1259.9 1439.5V1614.2M1261.6 1439.5V1614.2M1263.4 1439.5V1614.2M1265.1 1436.5V1614.2M1266.9 1437.5V1614.2M1268.7 1436.5V1614.2M1270.4 1439.5V1614.2M1272.2 1437.5V1614.2M1273.9 1439.5V1614.2M1275.7 1438.5V1614.2M1277.4 1438.5V1614.2M1279.2 1438.5V1614.2M1281.0 1439.5V1614.2M1282.7 1438.5V1614.2M1284.5 1439.5V1614.2M1286.2 1439.5V1614.2M1288.0 1439.5V1614.2M1289.8 1438.5V1533.5M1291.5 1593.5V1614.2M1293.3 1437.5V1614.2M1295.0 1438.5V1614.2M1296.8 1437.5V1614.2M1298.6 1438.5V1614.2M1300.3 1438.5V1614.2M1302.1 1438.5V1614.2M1303.8 1438.5V1614.2M1305.6 1437.5V1614.2M1307.4 1477.5V1614.2M1309.1 1437.5V1614.2M1310.9 1438.5V1614.2M1312.6 1437.5V1614.2M1314.4 1437.5V1614.2M1316.2 1435.5V1614.2M1317.9 1438.5V1614.2M1319.7 1438.5V1614.2M1321.4 1437.5V1614.2M1323.2 1437.5V1614.2M1325.0 1437.5V1614.2M1326.7 1438.5V1614.2M1328.5 1438.5V1614.2M1330.2 1438.5V1614.2M1332.0 1438.5V1614.2M1333.8 1438.5V1614.2M1335.5 1011.5V1012.5M1335.5 1437.5V1614.2M1337.3 1011.5V1012.5M1337.3 1438.5V1614.2M1339.0 1011.5V1012.5M1339.0 1438.5V1614.2M1340.8 1011.5V1012.5M1340.8 1437.5V1614.2M1342.6 1011.5V1012.5M1342.6 1438.5V1614.2M1344.3 1011.5V1012.5M1344.3 1438.5V1614.2M1346.1 1453.5V1614.2M1347.8 1437.5V1614.2M1349.6 1438.5V1614.2M1351.4 1003.5V1025.5M1351.4 1438.5V1614.2M1353.1 1003.5V1025.5M1353.1 1438.5V1614.2M1354.9 1003.5V1025.5M1354.9 1438.5V1614.2M1356.6 1453.5V1614.2M1358.4 998.5V1031.5M1358.4 1438.5V1614.2M1360.2 995.5V1039.5M1360.2 1451.5V1614.2M1361.9 990.5V1040.5M1361.9 1438.5V1614.2M1363.7 994.5V1035.5M1363.7 1438.5V1614.2M1365.4 997.5V1033.5M1365.4 1438.5V1614.2M1367.2 997.5V1034.5M1367.2 1439.5V1614.2M1369.0 995.5V1037.5M1369.0 1438.5V1614.2M1370.7 994.5V1042.5M1370.7 1438.5V1614.2M1372.5 985.5V1049.5M1372.5 1438.5V1614.2M1374.2 985.5V1060.5M1374.2 1439.5V1614.2M1376.0 984.5V1061.5M1376.0 1438.5V1614.2M1377.8 986.5V1061.5M1377.8 1438.5V1614.2M1379.5 984.5V1053.5M1379.5 1439.5V1614.2M1381.3 985.5V1049.5M1381.3 1438.5V1614.2M1383.0 992.5V1042.5M1383.0 1439.5V1614.2M1384.8 992.5V1043.5M1384.8 1438.5V1614.2M1386.6 992.5V1046.5M1386.6 1438.5V1614.2M1388.3 993.5V1045.5M1388.3 1438.5V1614.2M1390.1 994.5V1039.5M1390.1 1438.5V1614.2M1391.8 991.5V1035.5M1391.8 1438.5V1614.2M1393.6 991.5V1032.5M1393.6 1437.5V1614.2M1395.4 993.5V1039.5M1395.4 1445.5V1614.2M1397.1 990.5V1047.5M1397.1 1437.5V1614.2M1398.9 1437.5V1614.2M1400.6 992.5V1027.5M1400.6 1436.5V1614.2M1402.4 993.5V1028.5M1402.4 1437.5V1614.2M1404.1 992.5V1026.5M1404.1 1437.5V1614.2M1405.9 993.5V1027.5M1405.9 1437.5V1614.2M1407.7 997.5V1033.5M1407.7 1438.5V1614.2M1409.4 996.5V1037.5M1409.4 1438.5V1614.2M1411.2 997.5V1037.5M1411.2 1439.5V1614.2M1412.9 996.5V1034.5M1412.9 1437.5V1614.2M1414.7 995.5V1030.5M1414.7 1438.5V1614.2M1416.5 993.5V1026.5M1416.5 1438.5V1614.2M1418.2 1004.5V1019.5M1418.2 1439.5V1614.2M1420.0 1004.5V1019.5M1420.0 1439.5V1614.2M1421.7 1439.5V1614.2M1423.5 1438.5V1614.2M1425.3 1438.5V1614.2M1427.0 1438.5V1614.2M1428.8 1009.5V1013.5M1428.8 1438.5V1614.2M1430.5 1008.5V1013.5M1430.5 1437.5V1614.2M1432.3 1007.5V1018.5M1432.3 1438.5V1614.2M1434.1 1007.5V1013.5M1434.1 1438.5V1614.2M1435.8 1006.5V1015.5M1435.8 1438.5V1614.2M1437.6 1004.5V1018.5M1437.6 1438.5V1614.2M1439.3 1005.5V1020.5M1439.3 1438.5V1614.2M1441.1 1003.5V1026.5M1441.1 1438.5V1614.2M1442.9 997.5V1029.5M1442.9 1438.5V1614.2M1444.6 999.5V1031.5M1444.6 1434.5V1614.2M1446.4 998.5V1032.5M1446.4 1434.5V1614.2M1448.1 995.5V1038.5M1448.1 1435.5V1614.2M1449.9 994.5V1039.5M1449.9 1438.5V1614.2M1451.7 991.5V1041.5M1451.7 1449.5V1614.2M1453.4 992.5V1043.5M1453.4 1437.5V1614.2M1455.2 991.5V1048.5M1455.2 1437.5V1614.2M1456.9 991.5V1049.5M1456.9 1438.5V1614.2M1458.7 991.5V1052.5M1458.7 1439.5V1614.2M1460.5 991.5V1055.5M1460.5 1438.5V1614.2M1462.2 989.5V1058.5M1462.2 1439.5V1614.2M1464.0 987.5V1060.5M1464.0 1438.5V1614.2M1465.7 986.5V1063.5M1465.7 1438.5V1614.2M1467.5 983.5V1062.5M1467.5 1437.5V1614.2M1469.3 983.5V1064.5M1469.3 1449.5V1614.2M1471.0 981.5V1066.5M1471.0 1440.5V1614.2M1472.8 981.5V1067.5M1472.8 1439.5V1614.2M1474.5 979.5V1067.5M1474.5 1437.5V1614.2M1476.3 979.5V1068.5M1476.3 1438.5V1614.2M1478.1 979.5V1069.5M1478.1 1161.5V1236.5M1478.1 1438.5V1614.2M1479.8 978.5V1072.5M1479.8 1143.5V1242.5M1479.8 1439.5V1614.2M1481.6 980.5V1076.5M1481.6 1112.5V1247.5M1481.6 1439.5V1614.2M1483.3 980.5V1085.5M1483.3 1094.5V1251.5M1483.3 1439.5V1614.2M1485.1 977.5V1087.5M1485.1 1113.5V1252.5M1485.1 1439.5V1614.2M1486.9 979.5V1087.5M1486.9 1112.5V1253.5M1486.9 1439.5V1614.2M1488.6 977.5V1088.5M1488.6 1111.5V1255.5M1488.6 1439.5V1614.2M1490.4 978.5V1088.5M1490.4 1113.5V1256.5M1490.4 1438.5V1614.2M1492.1 978.5V1088.5M1492.1 1111.5V1255.5M1492.1 1437.5V1614.2M1493.9 978.5V1089.5M1493.9 1109.5V1259.5M1493.9 1438.5V1614.2M1495.7 976.5V1089.5M1495.7 1111.5V1264.5M1495.7 1438.5V1614.2M1497.4 979.5V1090.5M1497.4 1108.5V1267.5M1497.4 1435.5V1614.2M1499.2 978.5V1090.5M1499.2 1107.5V1271.5M1499.2 1438.5V1614.2M1500.9 978.5V1089.5M1500.9 1106.5V1277.5M1500.9 1438.5V1614.2M1502.7 978.5V1090.5M1502.7 1106.5V1286.5M1502.7 1439.5V1614.2M1504.5 979.5V1091.5M1504.5 1105.5V1290.5M1504.5 1439.5V1614.2M1506.2 979.5V1090.5M1506.2 1104.5V1309.5M1506.2 1438.5V1614.2M1508.0 978.5V1093.5M1508.0 1103.5V1317.5M1508.0 1437.5V1614.2M1509.7 978.5V1092.5M1509.7 1104.5V1321.5M1509.7 1437.5V1614.2M1511.5 978.5V1092.5M1511.5 1103.5V1324.5M1511.5 1439.5V1614.2M1513.3 979.5V1092.5M1513.3 1102.5V1327.5M1513.3 1437.5V1614.2M1515.0 979.5V1093.5M1515.0 1103.5V1331.5M1515.0 1437.5V1614.2M1516.8 979.5V1094.5M1516.8 1100.5V1337.5M1516.8 1437.5V1614.2M1518.5 979.5V1094.5M1518.5 1101.5V1338.5M1518.5 1438.5V1614.2M1520.3 519.5V533.5M1520.3 977.5V1094.5M1520.3 1101.5V1339.5M1520.3 1438.5V1614.2M1522.1 978.5V1096.5M1522.1 1101.5V1344.5M1522.1 1438.5V1614.2M1523.8 978.5V1097.5M1523.8 1101.5V1349.5M1523.8 1438.5V1614.2M1525.6 980.5V1096.5M1525.6 1100.5V1349.5M1525.6 1438.5V1614.2M1527.3 978.5V1098.5M1527.3 1101.5V1351.5M1527.3 1439.5V1614.2M1529.1 979.5V1354.5M1529.1 1439.5V1614.2M1530.8 978.5V1098.5M1530.8 1099.5V1352.5M1530.8 1438.5V1614.2M1532.6 977.5V1356.5M1532.6 1437.5V1614.2M1534.4 980.5V1357.5M1534.4 1439.5V1614.2M1536.1 979.5V1360.5M1536.1 1438.5V1614.2M1537.9 978.5V1361.5M1537.9 1438.5V1614.2M1539.6 978.5V1363.5M1539.6 1438.5V1614.2M1541.4 979.5V1364.5M1541.4 1436.5V1614.2M1543.2 979.5V1367.5M1543.2 1438.5V1614.2M1544.9 978.5V1370.5M1544.9 1438.5V1614.2M1546.7 979.5V1368.5M1546.7 1438.5V1614.2M1548.4 978.5V1367.5M1548.4 1438.5V1614.2M1550.2 977.5V1367.5M1550.2 1439.5V1614.2M1552.0 978.5V1366.5M1552.0 1439.5V1614.2M1553.7 978.5V1365.5M1553.7 1438.5V1614.2M1555.5 978.5V1367.5M1555.5 1438.5V1614.2M1557.2 979.5V1364.5M1557.2 1438.5V1614.2M1559.0 979.5V1363.5M1559.0 1439.5V1614.2M1560.8 978.5V1358.5M1560.8 1439.5V1614.2M1562.5 979.5V1358.5M1562.5 1439.5V1614.2M1564.3 978.5V1096.5M1564.3 1097.5V1357.5M1564.3 1438.5V1614.2M1566.0 978.5V1093.5M1566.0 1098.5V1355.5M1566.0 1438.5V1614.2M1567.8 978.5V1093.5M1567.8 1096.5V1353.5M1567.8 1439.5V1614.2M1569.6 976.5V1095.5M1569.6 1100.5V1352.5M1569.6 1439.5V1614.2M1571.3 977.5V1093.5M1571.3 1104.5V1350.5M1571.3 1438.5V1614.2M1573.1 979.5V1093.5M1573.1 1102.5V1350.5M1573.1 1438.5V1614.2M1574.8 978.5V1092.5M1574.8 1101.5V1350.5M1574.8 1438.5V1614.2M1576.6 979.5V1086.5M1576.6 1104.5V1348.5M1576.6 1439.5V1614.2M1578.4 980.5V1088.5M1578.4 1105.5V1343.5M1578.4 1436.5V1614.2M1580.1 979.5V1086.5M1580.1 1110.5V1338.5M1580.1 1438.5V1614.2M1581.9 980.5V1086.5M1581.9 1106.5V1331.5M1581.9 1438.5V1614.2M1583.6 980.5V1084.5M1583.6 1107.5V1322.5M1583.6 1438.5V1614.2M1585.4 983.5V1086.5M1585.4 1109.5V1319.5M1585.4 1439.5V1614.2M1587.2 982.5V1085.5M1587.2 1110.5V1314.5M1587.2 1438.5V1614.2M1588.9 984.5V1084.5M1588.9 1111.5V1305.5M1588.9 1438.5V1614.2M1590.7 987.5V1050.5M1590.7 1112.5V1297.5M1590.7 1439.5V1614.2M1592.4 989.5V1043.5M1592.4 1114.5V1293.5M1592.4 1438.5V1614.2M1594.2 993.5V1024.5M1594.2 1113.5V1288.5M1594.2 1439.5V1614.2M1596.0 995.5V1018.5M1596.0 1129.5V1276.5M1596.0 1439.5V1614.2M1597.7 1007.5V1013.5M1597.7 1146.5V1255.5M1597.7 1438.5V1614.2M1599.5 1155.5V1245.5M1599.5 1438.5V1614.2M1601.2 1438.5V1614.2M1603.0 1438.5V1614.2M1604.8 1438.5V1614.2M1606.5 1438.5V1614.2M1608.3 1438.5V1614.2M1610.0 1437.5V1614.2M1611.8 1437.5V1614.2M1613.6 1436.5V1614.2M1615.3 1437.5V1614.2M1617.1 1565.5V1614.2M1618.8 1565.5V1614.2M1620.6 1503.5V1614.2M1622.4 1439.5V1614.2M1624.1 1439.5V1614.2M1625.9 1439.5V1614.2M1627.6 1439.5V1614.2M1629.4 1439.5V1614.2M1631.2 1439.5V1614.2M1632.9 1439.5V1614.2M1634.7 1439.5V1614.2M1636.4 1559.5V1614.2M1638.2 1559.5V1614.2M1640.0 1584.5V1614.2M1641.7 1584.5V1614.2M1645.2 1545.5V1614.2M1647.0 1545.5V1614.2M1648.8 1545.5V1614.2M1650.5 1498.5V1614.2M1652.3 1498.5V1614.2M1654.0 1457.5V1614.2M1655.8 1457.5V1614.2M1657.5 1457.5V1614.2M1659.3 1525.5V1614.2M1661.1 1525.5V1614.2M1662.8 1525.5V1614.2M1664.6 1531.5V1614.2M1666.3 1531.5V1614.2M1668.1 1547.5V1614.2M1669.9 1565.5V1614.2M1671.6 1565.5V1614.2M1673.4 1575.5V1614.2M1675.1 1567.5V1614.2M1676.9 1567.5V1614.2M1685.7 1599.5V1614.2M1689.2 1578.5V1614.2M1698.0 1498.5V1614.2M1699.8 1468.5V1614.2M1701.5 1468.5V1614.2M1703.3 1606.5V1614.2M1705.1 1606.5V1614.2M1706.8 1606.5V1614.2" stroke="#cd87a8" stroke-width="2.11" fill="none"/>
<path d="M1483.3 1010.5V1012.5M1486.9 1004.5V1020.5M1488.6 1003.5V1020.5M1490.4 1002.5V1018.5M1492.1 1004.5V1023.5M1493.9 1003.5V1022.5M1493.9 1212.5V1216.5M1495.7 1003.5V1023.5M1495.7 1200.5V1221.5M1497.4 1002.5V1022.5M1497.4 1195.5V1221.5M1499.2 1003.5V1024.5M1499.2 1189.5V1225.5M1500.9 1001.5V1023.5M1500.9 1187.5V1230.5M1502.7 999.5V1025.5M1502.7 1184.5V1233.5M1504.5 1000.5V1024.5M1504.5 1182.5V1240.5M1506.2 999.5V1028.5M1506.2 1181.5V1239.5M1508.0 1000.5V1027.5M1508.0 1179.5V1240.5M1509.7 994.5V1029.5M1509.7 1176.5V1243.5M1511.5 998.5V1033.5M1511.5 1175.5V1244.5M1513.3 998.5V1034.5M1513.3 1172.5V1244.5M1515.0 998.5V1031.5M1515.0 1171.5V1250.5M1516.8 998.5V1036.5M1516.8 1168.5V1267.5M1518.5 999.5V1037.5M1518.5 1167.5V1272.5M1520.3 998.5V1038.5M1520.3 1161.5V1273.5M1522.1 999.5V1034.5M1522.1 1165.5V1275.5M1523.8 998.5V1043.5M1523.8 1163.5V1278.5M1525.6 1000.5V1036.5M1525.6 1163.5V1278.5M1527.3 997.5V1034.5M1527.3 1163.5V1281.5M1529.1 999.5V1033.5M1529.1 1162.5V1290.5M1530.8 998.5V1035.5M1530.8 1162.5V1299.5M1532.6 998.5V1035.5M1532.6 1157.5V1307.5M1534.4 998.5V1034.5M1534.4 1155.5V1309.5M1536.1 998.5V1034.5M1536.1 1158.5V1314.5M1537.9 999.5V1035.5M1537.9 1163.5V1318.5M1539.6 999.5V1037.5M1539.6 1162.5V1322.5M1541.4 998.5V1042.5M1541.4 1161.5V1324.5M1543.2 999.5V1037.5M1543.2 1160.5V1325.5M1544.9 998.5V1039.5M1544.9 1161.5V1330.5M1546.7 997.5V1039.5M1546.7 1161.5V1328.5M1548.4 997.5V1035.5M1548.4 1161.5V1328.5M1550.2 997.5V1037.5M1550.2 1162.5V1329.5M1552.0 1000.5V1042.5M1552.0 1159.5V1326.5M1553.7 998.5V1034.5M1553.7 1161.5V1326.5M1555.5 997.5V1036.5M1555.5 1163.5V1325.5M1557.2 998.5V1036.5M1557.2 1165.5V1324.5M1559.0 998.5V1036.5M1559.0 1164.5V1319.5M1560.8 999.5V1034.5M1560.8 1164.5V1310.5M1562.5 998.5V1030.5M1562.5 1164.5V1297.5M1564.3 1001.5V1030.5M1564.3 1161.5V1290.5M1566.0 1002.5V1026.5M1566.0 1170.5V1286.5M1567.8 1002.5V1023.5M1567.8 1175.5V1281.5M1569.6 1002.5V1024.5M1569.6 1178.5V1277.5M1571.3 1004.5V1025.5M1571.3 1180.5V1275.5M1573.1 1003.5V1025.5M1573.1 1180.5V1274.5M1574.8 1002.5V1025.5M1574.8 1179.5V1273.5M1576.6 1005.5V1023.5M1576.6 1176.5V1271.5M1578.4 1005.5V1023.5M1578.4 1177.5V1269.5M1580.1 1006.5V1022.5M1580.1 1181.5V1240.5M1581.9 1006.5V1021.5M1581.9 1190.5V1214.5" stroke="#9900b8" stroke-width="2.11" fill="none"/>
<line x1="152.1" y1="469" x2="152.1" y2="1614.2" stroke="#000" stroke-width="1.8"/>
<line x1="204.9" y1="469" x2="204.9" y2="1614.2" stroke="#000" stroke-width="1.8"/>
<line x1="257.7" y1="469" x2="257.7" y2="1614.2" stroke="#000" stroke-width="1.0"/>
<line x1="310.5" y1="469" x2="310.5" y2="1614.2" stroke="#000" stroke-width="1.8"/>
<line x1="363.3" y1="469" x2="363.3" y2="1614.2" stroke="#000" stroke-width="1.8"/>
<line x1="416.1" y1="469" x2="416.1" y2="1614.2" stroke="#000" stroke-width="1.0"/>
<line x1="468.9" y1="469" x2="468.9" y2="1614.2" stroke="#000" stroke-width="1.8"/>
<line x1="521.6" y1="469" x2="521.6" y2="1614.2" stroke="#000" stroke-width="1.8"/>
<line x1="574.4" y1="469" x2="574.4" y2="1614.2" stroke="#000" stroke-width="1.8"/>
<line x1="627.2" y1="469" x2="627.2" y2="1614.2" stroke="#000" stroke-width="1.8"/>
<line x1="680.0" y1="469" x2="680.0" y2="1614.2" stroke="#000" stroke-width="1.8"/>
<line x1="732.8" y1="469" x2="732.8" y2="1614.2" stroke="#000" stroke-width="1.8"/>
<line x1="785.6" y1="469" x2="785.6" y2="1614.2" stroke="#000" stroke-width="1.0"/>
<rect x="129.7" y="447.3" width="44.8" height="22" fill="#fff" stroke="#000" stroke-width="1.3"/>
<text x="151.9" y="465.6" text-anchor="middle" font-size="15.2" font-weight="bold" letter-spacing="-0.5">12AM</text>
<rect x="182.5" y="447.3" width="44.8" height="22" fill="#fff" stroke="#000" stroke-width="1.3"/>
<text x="204.7" y="465.6" text-anchor="middle" font-size="15.2" font-weight="bold" letter-spacing="-0.5">2AM</text>
<rect x="235.3" y="447.3" width="44.8" height="22" fill="#fff" stroke="#000" stroke-width="1.3"/>
<text x="257.5" y="465.6" text-anchor="middle" font-size="15.2" font-weight="bold" letter-spacing="-0.5">4AM</text>
<rect x="288.1" y="447.3" width="44.8" height="22" fill="#fff" stroke="#000" stroke-width="1.3"/>
<text x="310.3" y="465.6" text-anchor="middle" font-size="15.2" font-weight="bold" letter-spacing="-0.5">6AM</text>
<rect x="340.9" y="447.3" width="44.8" height="22" fill="#fff" stroke="#000" stroke-width="1.3"/>
<text x="363.1" y="465.6" text-anchor="middle" font-size="15.2" font-weight="bold" letter-spacing="-0.5">8AM</text>
<rect x="393.7" y="447.3" width="44.8" height="22" fill="#fff" stroke="#000" stroke-width="1.3"/>
<text x="415.9" y="465.6" text-anchor="middle" font-size="15.2" font-weight="bold" letter-spacing="-0.5">10AM</text>
<rect x="446.5" y="447.3" width="44.8" height="22" fill="#fff" stroke="#000" stroke-width="1.3"/>
<text x="468.7" y="465.6" text-anchor="middle" font-size="15.2" font-weight="bold" letter-spacing="-0.5">12PM</text>
<rect x="499.2" y="447.3" width="44.8" height="22" fill="#fff" stroke="#000" stroke-width="1.3"/>
<text x="521.4" y="465.6" text-anchor="middle" font-size="15.2" font-weight="bold" letter-spacing="-0.5">2PM</text>
<rect x="552.0" y="447.3" width="44.8" height="22" fill="#fff" stroke="#000" stroke-width="1.3"/>
<text x="574.2" y="465.6" text-anchor="middle" font-size="15.2" font-weight="bold" letter-spacing="-0.5">4PM</text>
<rect x="604.8" y="447.3" width="44.8" height="22" fill="#fff" stroke="#000" stroke-width="1.3"/>
<text x="627.0" y="465.6" text-anchor="middle" font-size="15.2" font-weight="bold" letter-spacing="-0.5">6PM</text>
<rect x="657.6" y="447.3" width="44.8" height="22" fill="#fff" stroke="#000" stroke-width="1.3"/>
<text x="679.8" y="465.6" text-anchor="middle" font-size="15.2" font-weight="bold" letter-spacing="-0.5">8PM</text>
<rect x="710.4" y="447.3" width="44.8" height="22" fill="#fff" stroke="#000" stroke-width="1.3"/>
<text x="732.6" y="465.6" text-anchor="middle" font-size="15.2" font-weight="bold" letter-spacing="-0.5">10PM</text>
<rect x="763.2" y="447.3" width="44.8" height="22" fill="#fff" stroke="#000" stroke-width="1.3"/>
<text x="785.4" y="465.6" text-anchor="middle" font-size="15.2" font-weight="bold" letter-spacing="-0.5">12AM</text>
<line x1="1083.0" y1="469" x2="1083.0" y2="1614.2" stroke="#000" stroke-width="1.8"/>
<line x1="1135.8" y1="469" x2="1135.8" y2="1614.2" stroke="#000" stroke-width="1.8"/>
<line x1="1188.6" y1="469" x2="1188.6" y2="1614.2" stroke="#000" stroke-width="1.0"/>
<line x1="1241.4" y1="469" x2="1241.4" y2="1614.2" stroke="#000" stroke-width="1.8"/>
<line x1="1294.2" y1="469" x2="1294.2" y2="1614.2" stroke="#000" stroke-width="1.8"/>
<line x1="1347.0" y1="469" x2="1347.0" y2="1614.2" stroke="#000" stroke-width="1.0"/>
<line x1="1399.8" y1="469" x2="1399.8" y2="1614.2" stroke="#000" stroke-width="1.8"/>
<line x1="1452.5" y1="469" x2="1452.5" y2="1614.2" stroke="#000" stroke-width="1.8"/>
<line x1="1505.3" y1="469" x2="1505.3" y2="1614.2" stroke="#000" stroke-width="1.0"/>
<line x1="1558.1" y1="469" x2="1558.1" y2="1614.2" stroke="#000" stroke-width="1.8"/>
<line x1="1610.9" y1="469" x2="1610.9" y2="1614.2" stroke="#000" stroke-width="1.8"/>
<line x1="1663.7" y1="469" x2="1663.7" y2="1614.2" stroke="#000" stroke-width="1.0"/>
<line x1="1716.5" y1="469" x2="1716.5" y2="1614.2" stroke="#000" stroke-width="1.8"/>
<rect x="1060.6" y="447.3" width="44.8" height="22" fill="#fff" stroke="#000" stroke-width="1.3"/>
<text x="1082.8" y="465.6" text-anchor="middle" font-size="15.2" font-weight="bold" letter-spacing="-0.5">12AM</text>
<rect x="1113.4" y="447.3" width="44.8" height="22" fill="#fff" stroke="#000" stroke-width="1.3"/>
<text x="1135.6" y="465.6" text-anchor="middle" font-size="15.2" font-weight="bold" letter-spacing="-0.5">2AM</text>
<rect x="1166.2" y="447.3" width="44.8" height="22" fill="#fff" stroke="#000" stroke-width="1.3"/>
<text x="1188.4" y="465.6" text-anchor="middle" font-size="15.2" font-weight="bold" letter-spacing="-0.5">4AM</text>
<rect x="1219.0" y="447.3" width="44.8" height="22" fill="#fff" stroke="#000" stroke-width="1.3"/>
<text x="1241.2" y="465.6" text-anchor="middle" font-size="15.2" font-weight="bold" letter-spacing="-0.5">6AM</text>
<rect x="1271.8" y="447.3" width="44.8" height="22" fill="#fff" stroke="#000" stroke-width="1.3"/>
<text x="1294.0" y="465.6" text-anchor="middle" font-size="15.2" font-weight="bold" letter-spacing="-0.5">8AM</text>
<rect x="1324.6" y="447.3" width="44.8" height="22" fill="#fff" stroke="#000" stroke-width="1.3"/>
<text x="1346.8" y="465.6" text-anchor="middle" font-size="15.2" font-weight="bold" letter-spacing="-0.5">10AM</text>
<rect x="1377.3" y="447.3" width="44.8" height="22" fill="#fff" stroke="#000" stroke-width="1.3"/>
<text x="1399.5" y="465.6" text-anchor="middle" font-size="15.2" font-weight="bold" letter-spacing="-0.5">12PM</text>
<rect x="1430.1" y="447.3" width="44.8" height="22" fill="#fff" stroke="#000" stroke-width="1.3"/>
<text x="1452.3" y="465.6" text-anchor="middle" font-size="15.2" font-weight="bold" letter-spacing="-0.5">2PM</text>
<rect x="1482.9" y="447.3" width="44.8" height="22" fill="#fff" stroke="#000" stroke-width="1.3"/>
<text x="1505.1" y="465.6" text-anchor="middle" font-size="15.2" font-weight="bold" letter-spacing="-0.5">4PM</text>
<rect x="1535.7" y="447.3" width="44.8" height="22" fill="#fff" stroke="#000" stroke-width="1.3"/>
<text x="1557.9" y="465.6" text-anchor="middle" font-size="15.2" font-weight="bold" letter-spacing="-0.5">6PM</text>
<rect x="1588.5" y="447.3" width="44.8" height="22" fill="#fff" stroke="#000" stroke-width="1.3"/>
<text x="1610.7" y="465.6" text-anchor="middle" font-size="15.2" font-weight="bold" letter-spacing="-0.5">8PM</text>
<rect x="1641.3" y="447.3" width="44.8" height="22" fill="#fff" stroke="#000" stroke-width="1.3"/>
<text x="1663.5" y="465.6" text-anchor="middle" font-size="15.2" font-weight="bold" letter-spacing="-0.5">10PM</text>
<rect x="1694.1" y="447.3" width="44.8" height="22" fill="#fff" stroke="#000" stroke-width="1.3"/>
<text x="1716.3" y="465.6" text-anchor="middle" font-size="15.2" font-weight="bold" letter-spacing="-0.5">12AM</text>
<line x1="151.2" y1="553.7" x2="1717.4" y2="553.7" stroke="#000" stroke-width="1.8"/>
<line x1="151.2" y1="570.6" x2="1717.4" y2="570.6" stroke="#000" stroke-width="1.8"/>
<line x1="151.2" y1="976" x2="1717.4" y2="976" stroke="#000" stroke-width="1.8"/>
<line x1="151.2" y1="993.5" x2="1717.4" y2="993.5" stroke="#000" stroke-width="1.1"/>
<line x1="151.2" y1="1051.2" x2="1717.4" y2="1051.2" stroke="#000" stroke-width="1.8"/>
<line x1="151.2" y1="1069" x2="1717.4" y2="1069" stroke="#000" stroke-width="1.8"/>
<line x1="151.2" y1="1358.5" x2="1717.4" y2="1358.5" stroke="#000" stroke-width="1.1"/>
<line x1="151.2" y1="1376.6" x2="1717.4" y2="1376.6" stroke="#000" stroke-width="1.8"/>
<line x1="151.2" y1="1597.2" x2="1717.4" y2="1597.2" stroke="#000" stroke-width="1.8"/>
<line x1="151.2" y1="1614.4" x2="1717.4" y2="1614.4" stroke="#000" stroke-width="1.3"/>
<line x1="145" y1="611.0" x2="152" y2="611.0" stroke="#000" stroke-width="1.6"/>
<text x="137.4" y="615.0" text-anchor="end" font-size="12" font-weight="bold" letter-spacing="-0.15">56.0</text>
<line x1="1716.5" y1="611.0" x2="1724" y2="611.0" stroke="#000" stroke-width="1.6"/>
<text x="1731.2" y="615.0" font-size="12" font-weight="bold" letter-spacing="-0.15">56.0</text>
<line x1="145" y1="742.7" x2="152" y2="742.7" stroke="#000" stroke-width="1.6"/>
<text x="137.4" y="746.7" text-anchor="end" font-size="12" font-weight="bold" letter-spacing="-0.15">55.0</text>
<line x1="1716.5" y1="742.7" x2="1724" y2="742.7" stroke="#000" stroke-width="1.6"/>
<text x="1731.2" y="746.7" font-size="12" font-weight="bold" letter-spacing="-0.15">55.0</text>
<line x1="145" y1="874.6" x2="152" y2="874.6" stroke="#000" stroke-width="1.6"/>
<text x="137.4" y="878.6" text-anchor="end" font-size="12" font-weight="bold" letter-spacing="-0.15">54.0</text>
<line x1="1716.5" y1="874.6" x2="1724" y2="874.6" stroke="#000" stroke-width="1.6"/>
<text x="1731.2" y="878.6" font-size="12" font-weight="bold" letter-spacing="-0.15">54.0</text>
<line x1="145" y1="1006.4" x2="152" y2="1006.4" stroke="#000" stroke-width="1.6"/>
<text x="137.4" y="1010.4" text-anchor="end" font-size="12" font-weight="bold" letter-spacing="-0.15">53.0</text>
<line x1="1716.5" y1="1006.4" x2="1724" y2="1006.4" stroke="#000" stroke-width="1.6"/>
<text x="1731.2" y="1010.4" font-size="12" font-weight="bold" letter-spacing="-0.15">53.0</text>
<line x1="145" y1="1138.4" x2="152" y2="1138.4" stroke="#000" stroke-width="1.6"/>
<text x="137.4" y="1142.4" text-anchor="end" font-size="12" font-weight="bold" letter-spacing="-0.15">52.0</text>
<line x1="1716.5" y1="1138.4" x2="1724" y2="1138.4" stroke="#000" stroke-width="1.6"/>
<text x="1731.2" y="1142.4" font-size="12" font-weight="bold" letter-spacing="-0.15">52.0</text>
<line x1="145" y1="1271.6" x2="152" y2="1271.6" stroke="#000" stroke-width="1.6"/>
<text x="137.4" y="1275.6" text-anchor="end" font-size="12" font-weight="bold" letter-spacing="-0.15">51.0</text>
<line x1="1716.5" y1="1271.6" x2="1724" y2="1271.6" stroke="#000" stroke-width="1.6"/>
<text x="1731.2" y="1275.6" font-size="12" font-weight="bold" letter-spacing="-0.15">51.0</text>
<line x1="145" y1="1402.9" x2="152" y2="1402.9" stroke="#000" stroke-width="1.6"/>
<text x="137.4" y="1406.9" text-anchor="end" font-size="12" font-weight="bold" letter-spacing="-0.15">50.0</text>
<line x1="1716.5" y1="1402.9" x2="1724" y2="1402.9" stroke="#000" stroke-width="1.6"/>
<text x="1731.2" y="1406.9" font-size="12" font-weight="bold" letter-spacing="-0.15">50.0</text>
<line x1="145" y1="1534.6" x2="152" y2="1534.6" stroke="#000" stroke-width="1.6"/>
<text x="137.4" y="1538.6" text-anchor="end" font-size="12" font-weight="bold" letter-spacing="-0.15">49.0</text>
<line x1="1716.5" y1="1534.6" x2="1724" y2="1534.6" stroke="#000" stroke-width="1.6"/>
<text x="1731.2" y="1538.6" font-size="12" font-weight="bold" letter-spacing="-0.15">49.0</text>
<use href="#tl" x="78.3" y="497"/>
<use href="#tl" x="78.3" y="529.5"/>
<use href="#tl" x="78.3" y="678.8"/>
<use href="#tl" x="78.3" y="786"/>
<use href="#tl" x="78.3" y="817.8"/>
<use href="#tl" x="78.3" y="849.6"/>
<use href="#tl" x="78.3" y="881.4"/>
<use href="#rb" x="77.8" y="912.9"/>
<use href="#tl" x="78.3" y="946"/>
<use href="#tl" x="78.3" y="977.4"/>
<use href="#tl" x="78.3" y="1009.4"/>
<use href="#tl" x="78.3" y="1122"/>
<use href="#tl" x="78.3" y="1165.3"/>
<use href="#tl" x="1788.6" y="496.1"/>
<use href="#tl" x="1788.6" y="528.6"/>
<use href="#tl" x="1788.6" y="677.9"/>
<use href="#tl" x="1788.6" y="785.1"/>
<use href="#tl" x="1788.6" y="816.9"/>
<use href="#tl" x="1788.6" y="848.7"/>
<use href="#tl" x="1788.6" y="880.5"/>
<use href="#rb" x="1788.1" y="912.0"/>
<use href="#tl" x="1788.6" y="945.1"/>
<use href="#tl" x="1788.6" y="976.5"/>
<use href="#tl" x="1788.6" y="1008.5"/>
<use href="#tl" x="1788.6" y="1121.1"/>
<use href="#tl" x="1788.6" y="1164.3999999999999"/>
<path d="M24.1,479.2 H44.9 V1593.8 H56 L34.6,1614.6 L13.6,1593.8 H24.1 Z" fill="url(#gL)" stroke="#000" stroke-width="1.9" stroke-linejoin="miter"/>
<path d="M1823.2,1612.4 V500.6 H1814.4 L1833.6,479.6 L1853.6,500.6 H1844 V1612.4 Z" fill="url(#gR)" stroke="#000" stroke-width="1.9" stroke-linejoin="miter"/>
<rect x="789.5" y="551.6" width="289" height="26.6" rx="6" ry="6" fill="#fff" stroke="#000" stroke-width="1.4"/>
<path d="M796,552 Q790.5,552 790.5,557 V573 Q790.5,578 796,578" fill="none" stroke="#000" stroke-width="3.6"/>
<path d="M1072,552 Q1077.5,552 1077.5,557 V573 Q1077.5,578 1072,578" fill="none" stroke="#000" stroke-width="3.6"/>
<path d="M794,578 H1074" fill="none" stroke="#000" stroke-width="2.2"/>
<text x="797.4" y="572" font-size="17.6" font-weight="bold" textLength="275.5" lengthAdjust="spacingAndGlyphs">General Edwards Bridge</text>
<rect x="864.7" y="957.1" width="65" height="58" rx="5" fill="#fff"/>
<rect x="867.2" y="959.6" width="60" height="53" rx="4.5" ry="4.5" fill="#fff" stroke="#111" stroke-width="1.3"/>
<text x="873.7" y="999.7" font-size="37.8" font-weight="bold" textLength="47" lengthAdjust="spacingAndGlyphs">16</text>
<rect x="937.1" y="957.9" width="65.4" height="58" rx="5" fill="#fff"/>
<rect x="939.6" y="960.4" width="60.4" height="53" rx="4.5" ry="4.5" fill="#fff" stroke="#111" stroke-width="1.3"/>
<text x="946.1" y="1000.5" font-size="37.8" font-weight="bold" textLength="47.5" lengthAdjust="spacingAndGlyphs">60</text>
<rect x="890.7" y="1031.3" width="85.2" height="59" rx="5" fill="#fff"/>
<rect x="893.2" y="1033.8" width="80.2" height="54" rx="4.5" ry="4.5" fill="#fff" stroke="#111" stroke-width="1.3"/>
<text x="896.8" y="1075.7" font-size="37.8" font-weight="bold" textLength="73" lengthAdjust="spacingAndGlyphs">145</text>
<rect x="898.3" y="1347.6" width="74" height="32" fill="#fff"/>
<g transform="translate(935.3,1369.6) scale(1,1.0)"><use href="#shield"/></g>
<text x="935.3" y="1348.7" text-anchor="middle" font-size="7.6" font-weight="bold" style="fill:#fff" textLength="45.8" lengthAdjust="spacingAndGlyphs">INTERSTATE</text>
<text x="935.3" y="1387.2" text-anchor="middle" font-size="38.6" font-weight="bold" style="fill:#f4f4f4" textLength="48.4" lengthAdjust="spacingAndGlyphs">90</text>
<rect x="896.8" y="1585.3" width="74" height="32" fill="#fff"/>
<g transform="translate(933.8,1607.3) scale(1,1.1)"><use href="#shield"/></g>
<text x="933.8" y="1584.5" text-anchor="middle" font-size="9.4" font-weight="bold" style="fill:#fff" textLength="45.8" lengthAdjust="spacingAndGlyphs">INTERSTATE</text>
<text x="933.8" y="1626.8" text-anchor="middle" font-size="43" font-weight="bold" style="fill:#f4f4f4" textLength="48.9" lengthAdjust="spacingAndGlyphs">93</text>
<rect x="152.6" y="1686.6" width="926.2" height="619.4" fill="#fff" stroke="#1a1a1a" stroke-width="2"/>
<text x="184.4" y="1737.5" font-size="33.4" font-weight="bold" textLength="286" lengthAdjust="spacingAndGlyphs">Travel-Time Index</text>
<text x="184.4" y="1792.3" font-size="26.4" transform="translate(184.4,1792.3) skewX(-11) translate(-184.4,-1792.3)" style="font-family:'DejaVu Sans','Liberation Sans',sans-serif;font-weight:200;stroke:#000;stroke-width:0.4" textLength="198.5" lengthAdjust="spacingAndGlyphs">Travel-Time Index</text>
<text x="389.7" y="1792.3" font-size="26.4" style="font-family:'DejaVu Sans','Liberation Sans',sans-serif;font-weight:200;stroke:#000;stroke-width:0.4" textLength="654.6" lengthAdjust="spacingAndGlyphs">compares travel conditions during a particular time to</text>
<text x="184.4" y="1822.6" font-size="26.4" style="font-family:'DejaVu Sans','Liberation Sans',sans-serif;font-weight:200;stroke:#000;stroke-width:0.4" textLength="819.9" lengthAdjust="spacingAndGlyphs">optimum travel conditions. It indicates the difference in travel times</text>
<text x="184.4" y="1853.3" font-size="26.4" style="font-family:'DejaVu Sans','Liberation Sans',sans-serif;font-weight:200;stroke:#000;stroke-width:0.4" textLength="751.8" lengthAdjust="spacingAndGlyphs">over a typical day, not average speeds. It is ideal for measuring</text>
<text x="184.4" y="1883.9" font-size="26.4" style="font-family:'DejaVu Sans','Liberation Sans',sans-serif;font-weight:200;stroke:#000;stroke-width:0.4" textLength="804.2" lengthAdjust="spacingAndGlyphs">congestion on arterial roadways that have signalized intersections.</text>
<text x="184.4" y="1945.5" font-size="27" font-weight="bold" textLength="115.6" lengthAdjust="spacingAndGlyphs">Formula:</text>
<text x="307.4" y="1945.5" font-size="26.4" style="font-family:'DejaVu Sans','Liberation Sans',sans-serif;font-weight:200;stroke:#000;stroke-width:0.4" textLength="737.8" lengthAdjust="spacingAndGlyphs">Travel-Time Index = Average Travel Time at a particular time /</text>
<text x="184.4" y="1975.6" font-size="26.4" style="font-family:'DejaVu Sans','Liberation Sans',sans-serif;font-weight:200;stroke:#000;stroke-width:0.4" textLength="260.1" lengthAdjust="spacingAndGlyphs">Free-Flow Travel Time</text>
<text x="184.4" y="2021" font-size="26.4" style="font-family:'DejaVu Sans','Liberation Sans',sans-serif;font-weight:200;stroke:#000;stroke-width:0.4" textLength="819.9" lengthAdjust="spacingAndGlyphs">Free-Flow Travel Time = the 85th percentile of travel time as derived</text>
<text x="184.4" y="2052" font-size="26.4" style="font-family:'DejaVu Sans','Liberation Sans',sans-serif;font-weight:200;stroke:#000;stroke-width:0.4" textLength="596.3" lengthAdjust="spacingAndGlyphs">from all samples between 12:00 AM and 2:00 AM.</text>
<text x="184.4" y="2112.9" font-size="27" font-weight="bold" textLength="138.4" lengthAdjust="spacingAndGlyphs">Threshold:</text>
<text x="331" y="2112.9" font-size="26.4" style="font-family:'DejaVu Sans','Liberation Sans',sans-serif;font-weight:200;stroke:#000;stroke-width:0.4" textLength="700.0" lengthAdjust="spacingAndGlyphs">Any location that experiences a Travel-Time Index of more</text>
<text x="184.4" y="2143.4" font-size="26.4" style="font-family:'DejaVu Sans','Liberation Sans',sans-serif;font-weight:200;stroke:#000;stroke-width:0.4" textLength="475.7" lengthAdjust="spacingAndGlyphs">than 1.3 is considered to be congested.</text>
<text x="184.4" y="2203.9" font-size="27" font-weight="bold" textLength="118.5" lengthAdjust="spacingAndGlyphs">Example:</text>
<text x="311.8" y="2203.9" font-size="26.4" style="font-family:'DejaVu Sans','Liberation Sans',sans-serif;font-weight:200;stroke:#000;stroke-width:0.4" textLength="712.4" lengthAdjust="spacingAndGlyphs">A Travel-Time Index of 1.5 indicates that a trip which would</text>
<text x="184.4" y="2235.3" font-size="26.4" style="font-family:'DejaVu Sans','Liberation Sans',sans-serif;font-weight:200;stroke:#000;stroke-width:0.4" textLength="832.6" lengthAdjust="spacingAndGlyphs">take 20 minutes in optimum travel conditions will take 30 minutes at</text>
<text x="184.4" y="2266.1" font-size="26.4" style="font-family:'DejaVu Sans','Liberation Sans',sans-serif;font-weight:200;stroke:#000;stroke-width:0.4" textLength="463.0" lengthAdjust="spacingAndGlyphs">the specified time (50 percent longer).</text>
<rect x="1188.6" y="1687.2" width="530" height="452" fill="#c8c8c8"/>
<rect x="1187.4" y="1686" width="530" height="452" fill="#fff" stroke="#000" stroke-width="1.2"/>
<text x="1206.5" y="1740.7" font-size="44" font-weight="bold" textLength="304.8" lengthAdjust="spacing">Travel Time Index</text>
<text x="1205.8" y="1808.7" font-size="29" textLength="501.7" lengthAdjust="spacing">(Peak-Period Travel Time/ Free-Flow Travel Time)</text>
<rect x="1204.8" y="1835.9" width="102.2" height="53.1" fill="#a8eab8"/>
<text x="1327.6" y="1877.3" font-size="39" textLength="264.5" lengthAdjust="spacing">Less than 1.15 TTI</text>
<rect x="1204.8" y="1908.9" width="102.2" height="54.1" fill="#64a090"/>
<text x="1327.6" y="1950.3" font-size="39" textLength="190.8" lengthAdjust="spacing">1.15-1.29 TTI</text>
<rect x="1204.8" y="1980.9" width="102.2" height="55.7" fill="#cd87a8"/>
<text x="1327.6" y="2022.7" font-size="39" textLength="190.8" lengthAdjust="spacing">1.30-2.00 TTI</text>
<rect x="1204.8" y="2054.8" width="102.2" height="55.1" fill="#9900b8"/>
<text x="1327.6" y="2096.3" font-size="39" textLength="270.4" lengthAdjust="spacing">More than 2.00 TTI</text>
</svg></body></html>
